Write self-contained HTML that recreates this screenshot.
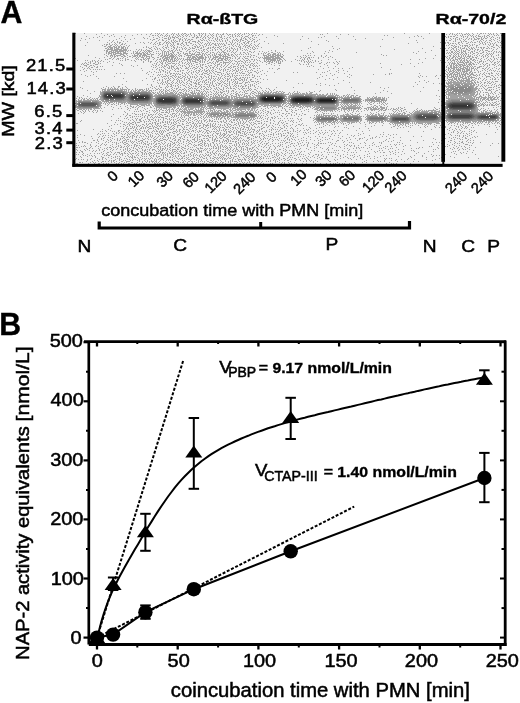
<!DOCTYPE html>
<html><head><meta charset="utf-8"><style>
html,body{margin:0;padding:0;background:#fff;}
svg{display:block;}
</style></head><body>
<svg width="520" height="703" viewBox="0 0 520 703">

<rect width="520" height="703" fill="#fff"/>
<rect x="75" y="33" width="367" height="131" fill="#f1f1f1"/>
<rect x="444" y="33" width="58" height="130" fill="#f1f1f1"/>
<g stroke-width="1">
<g stroke="#a1a1a1">
<path d="M75 33.5h430" stroke-dasharray="1 8 1 16 1 49 1 3 1 1 1 1 1 3 1 3 1 4 1 1 1 3 1 3 1 1 2 4 1 2 1 4 2 1 1 1 1 1 1 3 1 3 1 3 1 5 1 2 1 8 1 2 1 1 1 3 1 1 1 1 1 3 1 1 1 1 1 70 1 76 1 24 1 20 1 1 1 4 1 1 1 1 1 4 1 1 1 3 1 4 1 2 2 1 1 1 1 2 1 1 1 2 1 2 1 3 1 430"/>
<path d="M96 34.5h409" stroke-dasharray="1 10 1 5 1 23 1 3 1 4 1 3 1 7 1 2 1 4 1 4 1 1 1 2 1 1 1 2 1 1 1 2 1 1 1 1 1 3 1 4 1 2 1 2 1 4 1 1 1 3 1 1 1 1 1 1 2 3 1 1 2 1 1 1 1 2 1 1 1 2 1 1 1 4 1 1 1 7 1 2 1 57 1 1 1 17 1 7 1 97 1 2 1 2 1 1 1 1 1 5 1 1 2 1 1 1 1 3 1 5 1 9 1 1 1 1 1 3 1 430"/>
<path d="M104 35.5h401" stroke-dasharray="1 6 1 13 1 6 1 19 2 1 1 1 1 2 1 1 1 2 1 1 1 1 1 3 1 3 1 1 1 2 1 2 1 1 1 3 1 2 1 1 1 2 1 1 1 3 1 2 1 2 1 1 1 2 1 4 1 6 1 3 1 2 1 2 1 2 1 6 1 3 2 1 1 2 1 15 1 109 1 2 1 29 1 37 1 1 1 2 1 1 1 5 1 1 1 1 1 3 1 1 1 5 1 2 2 5 1 1 1 1 1 2 1 430"/>
<path d="M86 36.5h419" stroke-dasharray="1 12 1 9 1 4 1 6 1 27 1 8 1 5 1 1 1 2 1 2 1 2 1 2 1 1 1 2 1 2 1 2 1 4 1 2 1 3 1 2 1 2 1 4 1 3 1 2 1 1 1 2 1 5 1 1 1 2 1 1 1 1 1 2 1 2 3 4 1 24 1 24 1 21 1 11 1 16 1 60 1 3 1 2 1 23 1 2 1 1 2 1 2 6 1 1 1 1 1 1 1 3 1 1 1 1 1 2 3 1 1 1 1 1 1 2 1 2 1 10 1 430"/>
<path d="M93 37.5h412" stroke-dasharray="1 3 1 4 1 21 1 18 1 9 1 5 1 2 1 5 1 1 1 1 3 1 2 4 1 9 2 2 3 1 1 2 1 1 1 2 1 1 1 2 1 3 1 2 2 5 1 1 1 3 1 7 1 2 1 3 1 1 1 3 1 1 1 9 1 51 1 2 1 71 1 15 1 36 1 1 1 7 2 5 1 3 1 5 1 2 1 4 1 2 1 2 1 3 1 1 1 3 1 1 1 430"/>
<path d="M81 38.5h424" stroke-dasharray="1 7 1 29 1 14 1 9 1 2 1 8 2 6 3 1 1 1 1 3 1 3 1 1 1 3 1 1 1 9 1 5 1 2 1 3 1 2 1 2 1 1 1 4 1 1 1 1 1 3 1 5 1 4 1 1 1 1 1 3 1 2 1 55 1 29 1 26 1 57 1 20 1 5 1 2 1 1 1 3 1 1 1 4 1 2 1 1 1 2 1 2 3 1 1 1 1 1 2 3 1 4 1 3 1 430"/>
<path d="M85 39.5h420" stroke-dasharray="1 30 1 8 1 4 1 19 1 2 2 4 1 2 1 5 2 3 1 5 2 1 1 2 1 2 2 1 2 7 1 2 1 4 1 6 1 1 1 1 1 1 1 5 1 5 1 1 1 1 1 2 2 3 2 3 1 2 2 4 1 40 1 54 1 26 1 61 1 6 1 3 1 1 1 1 1 3 1 1 1 2 1 2 1 2 3 1 1 2 2 8 1 1 1 3 1 430"/>
<path d="M80 40.5h425" stroke-dasharray="1 18 1 9 1 3 1 7 1 30 1 5 1 3 2 2 1 4 1 1 1 1 1 3 1 2 1 2 1 1 1 2 1 7 1 2 2 1 1 1 1 2 1 1 1 1 1 2 1 2 1 2 1 2 1 1 1 4 1 1 1 1 1 1 1 1 1 1 2 3 1 4 1 4 1 68 1 89 1 29 1 2 2 4 1 4 1 3 1 8 1 6 1 2 1 2 1 2 2 3 1 4 1 430"/>
<path d="M112 41.5h393" stroke-dasharray="1 4 1 5 1 3 1 28 1 8 1 2 1 2 1 2 1 1 2 1 1 3 1 5 1 2 4 2 2 7 1 6 1 2 1 2 1 1 1 2 1 3 1 2 1 4 1 2 1 4 1 2 2 1 1 2 1 1 1 7 1 46 1 16 1 124 1 1 1 5 1 1 1 1 2 4 1 5 1 1 1 1 1 3 1 5 1 5 1 3 1 430"/>
<path d="M87 42.5h418" stroke-dasharray="1 19 1 3 1 2 1 2 1 1 2 19 1 2 1 4 1 2 1 3 1 3 2 3 1 1 2 1 1 2 2 1 1 6 1 2 2 1 2 5 1 1 1 2 1 1 1 5 1 1 1 15 1 3 1 1 1 2 1 3 1 3 2 2 2 5 1 162 1 22 1 4 1 1 2 9 2 1 1 6 1 1 1 1 1 1 2 3 1 2 1 1 1 2 1 1 1 5 1 2 1 1 1 2 1 430"/>
<path d="M109 43.5h396" stroke-dasharray="1 5 1 3 1 2 1 2 1 9 1 8 1 5 1 3 1 2 1 1 1 3 1 2 1 1 1 1 1 2 1 3 2 2 2 3 1 3 2 6 1 2 1 3 1 1 1 1 1 2 2 1 1 1 1 1 1 1 1 1 1 2 1 4 1 2 1 2 1 3 1 2 1 1 1 1 1 2 1 7 1 8 1 14 1 124 1 34 1 1 1 2 1 1 1 1 2 1 1 2 1 3 1 3 2 12 1 1 1 2 1 4 1 1 1 1 1 6 1 430"/>
<path d="M104 44.5h401" stroke-dasharray="1 1 2 1 1 2 1 1 1 1 1 4 2 1 1 28 1 1 1 3 2 1 1 4 1 3 1 1 1 3 2 1 1 2 1 2 1 6 1 1 1 3 1 4 1 1 1 2 1 1 1 2 2 2 1 1 1 1 1 1 1 3 2 1 1 1 1 3 1 1 1 2 1 2 1 4 1 3 1 3 1 59 1 130 1 6 1 2 1 9 1 2 1 1 1 4 1 3 1 1 1 2 1 1 1 2 1 2 1 6 1 430"/>
<path d="M85 45.5h420" stroke-dasharray="1 16 1 3 1 3 2 3 1 1 1 2 1 5 1 2 1 28 1 6 1 1 1 2 1 1 1 1 1 6 1 2 1 2 2 3 1 3 1 3 1 1 1 3 1 1 1 1 1 4 2 1 1 5 2 6 1 2 1 3 1 4 1 1 2 1 1 1 1 3 1 1 1 188 1 1 1 2 2 1 1 5 1 1 1 1 4 2 1 1 1 3 2 11 1 3 1 2 2 2 1 430"/>
<path d="M104 46.5h401" stroke-dasharray="2 2 3 2 2 1 1 1 2 1 1 1 2 3 1 17 1 6 1 1 1 7 1 3 1 3 1 1 1 3 1 5 1 10 2 1 1 1 1 3 1 1 1 7 1 5 1 1 1 1 1 5 1 3 1 2 1 1 1 1 1 2 1 1 1 2 2 3 1 2 1 1 1 73 1 47 1 52 1 19 1 1 2 1 1 3 1 2 1 1 1 1 1 6 1 10 1 3 2 5 1 430"/>
<path d="M107 47.5h398" stroke-dasharray="1 1 4 1 3 1 2 1 3 1 1 1 1 15 1 2 1 1 1 2 1 4 1 5 1 2 2 1 1 4 2 2 1 1 1 1 1 3 1 3 1 2 1 2 1 1 2 2 1 1 1 4 1 1 1 1 2 1 1 1 2 1 1 4 1 1 1 3 1 7 2 4 1 1 1 2 1 1 1 1 1 6 1 48 1 133 1 4 1 1 1 2 2 2 1 1 1 3 1 3 1 2 1 1 1 2 1 1 1 1 2 1 2 3 1 4 2 4 1 1 1 430"/>
<path d="M105 48.5h400" stroke-dasharray="2 1 1 1 3 1 1 1 3 2 3 1 1 1 1 21 2 3 1 2 1 1 1 3 1 2 1 4 1 2 1 1 1 5 1 1 1 1 1 3 1 1 3 5 2 5 2 1 1 3 1 4 1 3 1 2 1 2 1 1 2 1 1 2 1 2 1 1 1 5 1 3 1 2 1 1 1 50 1 24 1 5 1 82 1 17 1 4 1 2 1 3 2 2 1 3 1 1 3 1 1 2 1 1 2 1 1 6 1 1 1 2 2 1 1 1 1 5 1 4 1 430"/>
<path d="M107 49.5h398" stroke-dasharray="6 1 8 1 4 9 1 2 1 1 1 4 1 4 1 3 1 1 1 2 1 3 1 3 1 4 1 2 1 2 1 2 1 2 1 2 2 6 1 1 1 4 2 1 1 5 1 2 1 1 1 2 2 3 1 3 1 3 1 1 1 1 1 2 1 3 1 1 1 3 1 2 2 82 1 56 1 49 1 6 1 1 1 2 1 1 1 2 1 4 2 2 1 1 1 2 1 1 2 3 1 10 1 2 1 430"/>
<path d="M104 50.5h401" stroke-dasharray="1 1 2 3 7 1 8 1 1 1 1 7 1 2 1 1 1 1 1 1 3 2 1 8 1 1 1 5 1 1 2 2 1 1 1 1 1 7 1 4 1 1 1 4 1 1 1 1 1 3 1 2 1 1 1 2 1 5 1 2 1 2 1 2 1 2 1 3 1 4 1 2 1 1 1 23 1 3 1 25 1 27 1 101 1 14 2 2 1 3 1 1 1 2 1 1 1 1 1 1 1 2 2 4 1 2 1 2 1 1 1 2 3 4 1 9 1 430"/>
<path d="M106 51.5h399" stroke-dasharray="2 1 3 1 1 1 9 1 1 1 1 5 1 1 1 1 1 2 1 3 1 1 1 1 4 4 1 1 1 3 1 1 2 1 2 1 1 1 1 1 1 5 2 4 1 2 2 2 1 2 1 5 1 1 1 3 1 9 1 3 2 3 1 1 1 2 1 3 1 12 2 3 1 4 1 2 1 5 1 6 1 7 1 28 1 12 1 6 1 85 1 32 2 2 1 1 2 2 1 1 3 5 2 1 1 4 1 3 1 4 2 1 1 2 1 1 1 2 1 430"/>
<path d="M106 52.5h399" stroke-dasharray="1 1 2 1 5 1 2 1 1 2 3 7 1 2 2 1 1 2 2 1 1 1 1 1 1 3 1 8 1 1 1 1 1 1 1 3 2 3 2 4 1 5 1 5 1 1 3 1 1 4 2 2 1 1 2 3 1 1 1 1 1 1 3 5 1 1 1 1 1 4 1 2 2 2 1 3 1 1 1 10 1 1 1 4 2 4 1 1 1 33 1 14 1 27 1 56 1 11 1 21 1 1 1 1 2 1 1 1 1 2 1 1 2 2 1 2 1 1 1 1 1 3 2 4 2 2 1 6 1 2 1 1 1 1 1 1 1 430"/>
<path d="M106 53.5h399" stroke-dasharray="1 1 4 1 1 1 7 1 5 3 1 1 1 1 7 1 2 1 2 2 1 5 1 1 1 1 1 1 1 1 1 1 1 1 1 1 2 1 1 4 1 1 1 2 1 1 3 1 2 1 1 1 1 4 1 2 2 1 1 4 1 3 1 1 1 3 1 3 1 1 1 1 1 5 1 5 1 4 1 2 1 9 1 2 1 1 1 1 1 2 2 3 3 2 1 1 1 26 1 2 1 13 1 91 1 26 1 2 1 1 1 1 1 2 1 1 1 1 2 2 1 1 1 1 2 3 1 2 2 3 1 1 2 5 1 1 1 1 1 1 1 430"/>
<path d="M104 54.5h401" stroke-dasharray="1 3 1 2 1 1 3 4 4 2 1 7 1 2 2 1 2 1 3 1 3 1 3 5 1 2 1 1 1 1 1 1 2 1 2 1 1 1 1 2 1 4 2 1 1 3 4 1 5 1 1 1 1 1 1 1 2 2 1 1 1 1 1 1 3 1 1 1 2 1 2 2 2 2 1 1 1 1 1 1 1 1 1 2 1 1 1 1 1 7 1 4 1 3 2 1 1 1 4 1 2 1 1 1 1 98 1 69 1 2 1 1 1 1 1 1 1 1 1 1 1 1 1 1 1 3 1 4 1 5 1 2 1 1 1 1 1 1 1 5 1 4 1 430"/>
<path d="M88 55.5h417" stroke-dasharray="1 17 1 3 3 1 1 1 5 2 2 2 1 4 1 1 4 1 2 1 5 4 1 6 1 2 2 1 5 1 4 1 1 2 1 1 2 4 6 3 2 1 1 2 2 1 1 2 1 2 1 1 1 1 2 3 3 1 1 1 1 2 2 1 1 1 1 2 1 14 1 1 2 8 4 1 3 1 2 1 6 2 1 19 1 1 1 2 1 1 1 3 1 6 1 4 1 56 1 2 1 48 1 13 2 2 1 1 1 2 1 2 1 1 1 1 1 2 1 1 1 3 1 1 1 2 1 2 1 2 1 1 1 3 1 4 1 1 1 430"/>
<path d="M107 56.5h398" stroke-dasharray="1 2 1 1 1 1 2 1 1 3 2 1 2 3 2 2 3 1 1 1 2 1 1 1 1 1 4 1 1 8 2 1 3 1 1 1 6 1 1 2 1 1 1 2 1 3 1 1 1 1 3 1 2 1 4 2 1 2 1 1 1 2 1 1 4 1 1 1 6 4 1 1 1 2 1 2 1 2 1 1 1 1 2 1 1 5 1 7 1 1 3 1 6 1 2 1 3 14 1 2 1 5 1 14 1 3 1 4 1 114 1 1 1 2 1 2 2 1 1 1 2 1 1 1 1 1 1 1 4 1 1 4 1 3 1 1 1 1 1 2 1 2 1 1 1 430"/>
<path d="M95 57.5h410" stroke-dasharray="1 8 1 6 1 2 1 8 1 3 1 4 1 3 1 1 1 2 3 2 1 2 1 2 2 3 2 3 2 1 5 1 3 1 1 1 1 9 4 1 4 1 7 1 2 1 1 1 1 2 5 1 2 2 1 1 1 1 4 4 1 3 1 4 1 5 1 2 1 4 1 1 1 1 1 1 10 1 5 1 2 18 1 1 1 1 1 2 2 1 1 1 1 4 1 4 1 4 1 3 1 113 1 2 1 2 2 1 1 1 1 2 2 2 1 1 1 2 1 2 2 1 2 6 1 3 1 5 1 4 1 1 1 2 1 430"/>
<path d="M75 58.5h430" stroke-dasharray="1 23 1 9 2 2 1 3 2 1 1 1 1 2 1 9 1 1 1 5 1 1 1 1 3 4 1 5 1 1 1 1 4 1 1 1 2 1 2 1 1 1 1 1 1 1 1 3 1 1 1 1 3 1 2 1 6 1 1 3 1 2 2 1 1 2 6 1 3 2 1 1 1 2 1 2 2 2 1 2 3 11 1 3 8 1 9 2 1 16 1 3 1 2 1 1 1 8 1 106 1 7 1 7 1 2 1 2 1 1 1 1 2 2 1 2 3 1 3 2 2 1 2 4 1 1 1 2 1 4 1 3 1 3 1 1 1 7 1 430"/>
<path d="M105 59.5h400" stroke-dasharray="1 1 1 4 1 3 1 1 1 6 1 1 2 7 1 1 1 1 2 1 2 1 1 1 1 4 1 3 1 1 2 2 2 1 3 1 3 1 1 1 1 1 1 1 1 2 1 1 7 1 7 2 1 1 2 3 1 1 2 1 2 1 2 2 2 1 2 1 1 1 1 7 1 5 1 4 1 2 2 1 1 1 1 7 1 1 10 1 1 1 3 2 1 10 1 6 1 1 1 2 1 2 1 17 1 6 1 74 1 8 1 23 1 4 1 1 1 2 1 1 3 1 1 1 1 2 1 1 1 3 2 1 2 5 1 3 1 3 1 2 1 2 1 2 1 2 2 430"/>
<path d="M77 60.5h428" stroke-dasharray="1 7 1 1 1 4 1 1 1 3 1 2 1 18 1 1 1 2 1 5 1 2 1 6 1 3 1 2 1 7 1 4 1 1 4 1 1 1 1 1 1 1 2 1 1 4 1 1 1 2 1 1 2 1 1 2 1 1 2 1 1 1 1 2 1 2 1 2 1 4 1 1 5 2 2 1 1 1 1 1 1 1 1 5 1 3 1 1 2 1 1 4 1 2 1 1 1 4 1 1 1 1 1 1 6 1 3 2 1 2 1 11 1 1 1 1 1 1 1 4 1 3 1 2 1 5 1 118 1 6 1 2 1 1 3 2 1 2 2 1 2 1 2 1 1 2 2 1 1 1 1 3 1 5 1 1 1 3 1 430"/>
<path d="M90 61.5h415" stroke-dasharray="1 1 1 2 1 1 1 2 1 2 1 5 1 25 1 7 1 4 1 1 2 3 1 3 1 1 1 1 1 2 1 1 3 1 3 1 1 2 1 1 1 5 1 2 1 1 4 3 2 1 1 1 1 2 1 5 1 2 3 4 1 5 1 1 1 3 2 1 2 1 2 2 1 4 1 2 1 6 1 3 2 1 4 1 1 1 1 1 1 1 1 1 1 1 1 8 1 9 1 2 1 1 1 1 1 1 1 4 1 2 1 17 1 2 1 111 1 2 1 1 1 1 1 1 1 1 1 1 1 2 2 1 1 3 1 4 3 1 1 1 1 4 1 1 1 4 1 1 1 430"/>
<path d="M85 62.5h420" stroke-dasharray="1 2 1 1 1 4 1 2 1 8 1 5 1 29 1 6 1 6 1 2 1 1 1 2 1 1 1 3 1 7 1 2 1 2 1 2 1 1 1 4 3 2 1 1 1 1 1 4 2 1 1 2 1 1 1 2 2 1 6 1 1 6 1 5 1 1 1 1 1 1 1 6 1 5 1 3 1 2 1 1 2 3 1 1 1 1 1 23 1 2 1 1 1 1 1 1 1 7 1 5 1 1 1 3 1 3 1 84 1 18 1 3 1 2 1 1 1 1 1 1 1 2 1 1 5 1 4 1 2 3 1 1 1 1 1 3 1 7 1 2 2 2 1 430"/>
<path d="M82 63.5h423" stroke-dasharray="1 1 1 1 1 3 1 2 2 3 1 1 1 18 1 34 1 1 1 4 2 2 1 2 3 1 3 1 1 1 1 3 1 1 1 2 1 1 1 1 1 1 1 5 1 7 2 2 1 1 1 1 1 3 1 3 1 1 1 3 1 2 1 1 1 2 1 1 1 1 1 2 1 6 2 1 1 2 1 10 2 4 1 3 3 18 1 8 1 10 2 5 1 7 1 3 1 41 1 29 1 7 1 30 1 1 5 1 2 4 2 1 1 2 2 1 2 4 1 3 1 3 2 6 1 2 1 430"/>
<path d="M81 64.5h424" stroke-dasharray="1 1 1 3 2 6 3 23 1 30 1 3 1 2 1 2 1 3 2 7 1 3 1 6 1 1 1 2 1 4 2 2 1 1 2 1 1 8 1 2 3 1 1 3 1 2 1 4 1 2 1 1 1 6 1 2 1 1 1 2 1 12 1 4 1 28 1 2 1 2 1 1 1 15 1 12 1 63 1 47 1 1 1 1 2 1 1 1 5 1 1 1 1 1 4 1 2 1 1 3 1 2 1 1 1 3 1 2 2 1 1 3 1 430"/>
<path d="M84 65.5h421" stroke-dasharray="3 3 2 1 1 18 1 9 1 8 1 5 1 15 1 1 1 2 1 2 1 2 1 1 1 1 1 2 1 2 1 3 1 1 1 1 1 1 1 4 1 2 1 1 1 5 1 1 1 5 1 1 2 3 1 1 1 3 1 2 1 2 1 3 1 6 1 1 1 1 2 2 2 2 1 1 1 1 1 1 1 2 1 14 1 4 1 31 1 15 1 116 1 2 1 2 2 1 1 1 3 1 2 1 4 1 1 1 1 1 1 12 1 2 1 1 1 4 1 3 1 1 1 1 1 430"/>
<path d="M80 66.5h425" stroke-dasharray="1 5 1 2 1 4 1 2 1 2 1 1 1 30 1 17 1 4 1 5 1 1 2 3 1 1 3 2 1 5 1 2 1 3 1 1 1 4 1 1 1 1 1 4 2 2 1 4 1 2 1 2 1 2 1 2 1 3 1 2 3 1 1 3 1 1 1 5 1 3 1 1 1 1 1 49 1 1 1 3 1 6 1 14 1 78 1 31 1 3 2 1 2 1 1 1 1 1 2 1 1 2 3 1 1 1 1 1 2 3 3 1 1 3 1 8 1 430"/>
<path d="M82 67.5h423" stroke-dasharray="1 5 1 2 2 3 2 55 1 1 1 3 1 1 1 1 1 3 1 1 1 1 1 1 1 3 1 2 1 5 1 1 1 4 2 2 1 3 2 4 1 2 1 1 2 2 1 4 1 3 1 2 2 1 1 1 1 4 1 1 1 2 1 1 1 3 2 77 1 23 1 28 1 64 1 1 1 1 2 1 5 1 2 2 3 1 1 1 1 1 1 1 1 3 3 6 1 2 1 4 1 430"/>
<path d="M84 68.5h421" stroke-dasharray="1 2 1 1 1 51 1 15 1 6 1 3 2 1 1 2 1 1 3 2 1 3 3 2 1 1 1 2 2 2 1 2 1 3 1 3 1 2 1 3 1 1 1 4 1 5 1 4 1 1 1 2 1 5 1 6 2 2 1 1 1 9 1 2 1 5 2 43 1 9 1 4 1 3 1 6 1 98 2 1 4 1 1 1 1 1 4 1 3 1 1 1 3 1 1 1 1 4 2 1 1 2 1 3 1 3 1 2 1 430"/>
<path d="M83 69.5h422" stroke-dasharray="1 6 1 2 1 1 1 1 1 1 1 1 1 2 1 47 1 3 1 2 1 1 1 3 1 6 1 2 1 2 1 9 1 5 1 5 1 3 1 3 1 3 1 2 1 3 1 1 1 1 1 1 1 1 2 3 1 2 1 2 1 2 2 1 1 1 1 4 1 25 1 40 1 71 1 55 1 1 1 1 1 2 2 1 5 1 3 1 4 1 1 2 1 1 1 7 1 2 1 2 1 7 1 5 1 430"/>
<path d="M80 70.5h425" stroke-dasharray="1 5 1 55 1 16 1 2 2 3 1 2 1 3 1 5 1 1 2 3 1 3 1 4 1 1 2 2 1 1 1 1 2 1 1 1 1 1 1 6 1 2 1 1 1 4 1 2 2 1 1 1 1 1 1 7 1 1 1 1 1 4 1 4 1 66 1 8 1 4 1 101 1 2 1 1 1 1 2 1 1 1 4 1 1 1 1 1 4 1 1 2 1 2 1 4 1 2 1 3 1 1 1 1 1 1 1 430"/>
<path d="M84 71.5h421" stroke-dasharray="1 6 1 4 1 52 1 4 1 5 1 2 1 1 1 3 1 5 1 1 2 1 1 8 1 3 1 1 1 3 1 1 1 3 2 2 1 2 1 2 2 6 1 3 1 1 1 2 1 3 2 4 1 2 1 1 1 6 2 4 1 6 1 59 1 8 1 10 1 98 1 2 3 1 2 1 1 1 1 1 1 1 6 2 2 6 1 1 1 6 1 6 1 2 1 1 1 1 1 430"/>
<path d="M93 72.5h412" stroke-dasharray="1 53 1 3 1 4 1 1 1 1 1 4 1 1 1 1 1 12 1 3 1 1 1 2 1 1 1 2 1 1 1 4 1 3 1 2 1 2 1 3 4 5 1 8 1 3 1 1 1 6 1 1 2 4 1 1 1 15 1 18 1 3 1 18 1 5 1 1 1 13 1 103 1 1 1 2 1 1 1 2 2 1 3 1 1 1 1 1 2 1 1 2 2 1 1 1 2 2 1 5 1 6 1 9 1 430"/>
<path d="M116 73.5h389" stroke-dasharray="1 3 1 3 1 21 1 20 1 2 2 1 2 1 1 1 1 3 1 1 1 2 1 3 1 5 1 4 1 1 3 2 1 1 1 2 1 6 1 1 1 3 1 1 1 1 1 1 1 1 1 1 1 2 1 1 3 4 1 7 1 6 1 65 1 13 1 44 1 1 1 27 1 25 1 2 1 1 3 1 1 2 3 1 1 1 1 1 3 1 1 1 2 7 1 2 1 2 1 1 2 1 2 3 1 1 1 4 1 430"/>
<path d="M81 74.5h424" stroke-dasharray="1 11 1 54 1 4 1 4 1 1 1 1 1 2 1 4 1 4 1 1 1 1 2 4 1 2 1 3 1 2 1 3 1 1 2 4 2 6 1 1 2 2 1 3 1 1 2 3 1 13 1 1 1 3 1 8 1 58 1 13 1 14 1 23 1 11 1 3 1 54 1 1 2 1 3 1 5 1 1 1 5 1 2 1 4 2 1 2 1 2 1 1 1 4 1 7 1 2 1 430"/>
<path d="M85 75.5h420" stroke-dasharray="1 4 1 66 1 1 1 6 1 1 1 3 2 1 1 6 1 2 1 3 1 6 1 7 1 4 1 1 1 7 1 2 1 1 1 4 1 2 1 1 1 1 2 1 1 1 1 1 1 1 1 1 1 1 1 2 1 1 1 11 1 59 1 5 1 18 1 68 1 15 1 3 1 1 1 4 1 1 1 1 1 1 1 1 1 1 1 1 2 1 1 1 2 3 2 2 3 1 1 1 1 5 1 5 2 2 1 2 1 3 1 430"/>
<path d="M87 76.5h418" stroke-dasharray="1 8 1 17 1 35 1 1 1 8 1 1 3 1 1 2 2 2 1 1 1 1 1 1 1 2 2 2 1 2 1 1 1 1 1 2 1 2 2 3 1 2 1 2 1 1 2 1 1 4 1 3 1 1 2 1 1 1 1 2 1 18 1 2 1 1 1 62 1 24 1 70 1 3 1 3 1 8 1 9 1 1 2 2 3 1 3 1 2 1 2 1 1 1 3 1 1 4 1 5 1 3 4 3 1 8 1 430"/>
<path d="M155 77.5h350" stroke-dasharray="1 2 1 3 1 5 1 3 1 2 1 2 2 2 1 2 1 1 1 2 1 1 1 1 1 1 1 4 1 1 1 2 1 1 1 2 1 6 1 1 1 3 1 5 1 3 1 1 1 3 1 1 2 1 1 1 1 1 1 2 2 65 1 17 1 11 1 69 1 27 1 1 3 1 2 1 1 1 1 1 3 2 2 1 1 1 5 4 1 6 1 3 1 3 1 2 1 2 1 430"/>
<path d="M98 78.5h407" stroke-dasharray="1 24 1 22 1 7 2 8 1 1 1 1 1 1 1 2 1 3 1 2 2 2 1 3 2 5 1 3 1 2 1 6 1 1 1 1 1 1 1 2 1 1 1 1 1 2 1 1 1 1 1 5 1 1 1 1 2 3 1 2 1 7 1 4 1 56 1 11 1 108 1 5 1 2 1 4 1 1 3 1 2 2 5 1 2 1 1 3 2 1 1 1 1 3 1 7 1 2 1 430"/>
<path d="M152 79.5h353" stroke-dasharray="1 1 1 4 1 2 1 2 1 3 1 4 1 1 1 1 1 5 1 1 1 2 1 1 1 5 1 1 1 1 1 4 1 1 1 1 1 3 1 2 1 1 1 3 1 3 2 2 1 1 1 1 2 1 1 2 2 1 1 1 1 3 2 5 1 5 1 3 1 57 1 7 1 109 1 4 5 1 3 1 2 1 1 1 1 2 4 2 1 1 1 3 1 4 1 2 1 3 1 1 1 1 2 2 1 430"/>
<path d="M142 80.5h363" stroke-dasharray="1 14 1 1 1 2 1 4 2 1 1 2 1 3 1 1 1 1 1 2 1 3 2 4 1 1 1 1 1 4 1 1 2 3 1 2 1 1 1 2 1 2 1 3 1 1 1 3 1 2 1 4 2 1 1 1 1 1 1 3 1 35 1 56 1 80 1 20 1 1 1 1 1 1 3 2 2 1 11 1 3 1 1 6 1 2 1 430"/>
<path d="M83 81.5h422" stroke-dasharray="1 42 1 26 1 8 1 2 1 1 1 4 1 4 1 1 1 2 1 4 1 2 2 4 1 3 1 1 1 1 1 3 1 3 1 1 1 5 1 1 1 1 1 2 1 1 1 3 1 1 1 1 1 5 1 4 1 2 3 1 1 1 2 160 1 8 1 19 1 1 2 1 3 1 2 1 4 1 7 2 1 2 1 2 1 6 1 1 1 2 1 2 3 5 1 430"/>
<path d="M157 82.5h348" stroke-dasharray="1 3 1 1 1 1 1 1 1 3 1 1 1 2 1 2 1 1 1 1 1 2 1 4 1 1 1 1 1 2 2 2 1 1 1 1 1 1 1 1 1 1 1 4 1 3 1 1 1 5 1 2 1 2 1 1 1 4 1 2 3 1 1 6 1 3 1 88 1 20 1 44 1 10 1 19 1 1 14 1 3 1 3 1 2 1 2 1 2 2 1 2 2 2 1 2 1 1 1 7 1 430"/>
<path d="M158 83.5h347" stroke-dasharray="1 1 1 1 1 3 1 1 2 2 1 2 1 1 1 2 1 3 1 2 1 1 1 4 3 1 1 6 1 4 1 1 1 2 1 2 3 3 2 1 1 1 1 4 1 1 2 1 3 3 1 8 1 3 1 39 1 3 1 17 1 17 1 94 1 5 1 1 1 4 6 1 21 1 1 4 1 3 1 2 1 1 2 4 1 430"/>
<path d="M122 84.5h383" stroke-dasharray="1 24 1 3 1 10 1 1 1 2 1 2 2 6 1 3 1 3 1 3 2 4 1 1 2 1 1 2 1 1 2 1 1 2 1 3 1 2 1 2 1 3 1 2 1 2 1 2 1 8 1 3 1 1 1 1 1 3 1 59 1 8 1 91 1 23 1 5 2 1 6 11 5 1 2 1 1 1 1 3 1 9 1 1 1 4 1 3 1 430"/>
<path d="M151 85.5h354" stroke-dasharray="1 7 1 7 1 3 1 1 1 1 1 1 1 2 1 2 2 3 1 2 1 3 1 4 1 8 1 1 1 1 1 2 1 1 1 2 1 2 1 2 1 1 1 4 1 1 1 1 1 2 1 3 2 3 1 1 1 1 1 65 1 8 1 4 1 108 1 1 1 2 3 20 4 3 1 2 1 2 1 1 1 1 1 2 1 4 1 1 1 1 2 430"/>
<path d="M106 86.5h399" stroke-dasharray="1 6 1 4 2 5 1 26 1 3 1 2 1 6 1 1 1 1 2 3 1 2 1 6 1 3 1 3 1 1 2 2 1 1 1 1 2 2 1 1 1 3 2 6 1 3 2 3 1 2 1 1 1 2 1 1 1 1 2 1 1 2 1 1 1 3 1 3 1 154 1 31 5 22 2 2 2 2 1 1 1 2 1 8 1 1 1 430"/>
<path d="M80 87.5h425" stroke-dasharray="1 22 1 4 1 2 1 2 1 3 1 3 1 3 1 23 1 3 1 5 2 3 1 1 1 4 1 5 1 1 1 5 1 1 1 2 1 6 1 2 1 3 1 2 1 1 1 5 1 1 1 4 1 3 1 2 1 5 1 5 1 5 1 6 1 4 1 15 1 16 1 57 1 28 1 7 1 34 1 22 1 1 2 23 1 1 2 6 1 4 4 1 1 4 2 430"/>
<path d="M82 88.5h423" stroke-dasharray="1 18 1 3 1 2 1 1 1 1 1 1 2 1 1 2 1 1 1 4 1 7 1 10 1 1 1 3 1 2 1 2 1 6 1 5 1 2 1 1 2 6 1 4 2 1 1 1 2 1 1 2 1 3 1 1 1 4 1 2 1 1 1 2 1 3 1 2 1 1 1 1 2 1 2 3 1 2 1 1 2 1 1 1 1 1 1 6 1 3 1 4 1 1 1 115 1 59 1 2 2 24 5 1 1 1 1 2 1 2 1 8 1 430"/>
<path d="M102 89.5h403" stroke-dasharray="4 1 12 1 7 1 2 2 1 2 1 1 1 1 4 1 1 1 1 1 1 7 2 1 1 1 1 1 1 2 1 2 1 2 1 3 1 2 2 1 2 1 1 2 1 7 1 4 1 1 1 2 3 1 1 4 1 1 1 2 2 1 1 11 1 3 1 2 1 6 1 1 1 2 2 13 1 4 1 60 1 107 2 1 3 24 4 1 1 6 2 2 1 1 1 1 1 5 1 2 1 430"/>
<path d="M87 90.5h418" stroke-dasharray="1 14 1 1 2 16 1 1 1 1 1 1 1 2 1 1 1 1 2 1 3 1 2 2 2 1 3 1 1 1 1 4 1 2 1 1 1 1 2 2 1 1 2 3 1 2 1 2 1 1 1 2 1 1 1 2 1 1 4 4 1 8 1 4 1 3 1 3 1 1 1 3 2 9 1 1 1 1 2 1 1 5 1 5 1 2 1 4 1 2 1 46 1 15 1 17 1 28 1 54 1 4 1 1 1 1 2 24 3 2 2 2 1 3 1 1 3 5 2 430"/>
<path d="M94 91.5h411" stroke-dasharray="1 5 1 1 1 22 2 1 1 1 2 1 3 1 3 1 6 1 2 1 1 7 1 1 2 2 2 2 1 3 1 1 1 1 1 5 1 2 1 1 1 3 1 1 1 4 1 1 1 1 1 1 1 1 1 2 1 3 1 1 1 3 1 2 2 1 1 1 1 2 1 1 1 2 1 3 1 3 1 1 1 5 2 3 1 1 1 3 1 2 1 1 1 2 1 4 2 1 2 1 1 11 1 2 1 11 1 4 1 4 1 67 1 32 1 23 1 1 3 24 2 1 2 2 1 10 1 3 1 6 1 430"/>
<path d="M100 92.5h405" stroke-dasharray="2 24 4 20 1 1 2 1 1 1 1 1 1 1 1 1 1 1 1 1 1 2 3 1 1 1 1 2 3 3 1 4 3 1 1 1 1 1 1 1 1 1 1 3 1 1 1 2 1 4 1 1 1 1 3 5 1 6 1 3 1 2 1 1 1 6 1 2 2 2 1 1 1 1 1 1 2 1 2 1 2 1 4 1 1 2 1 1 2 4 1 3 1 3 1 1 1 6 1 3 3 67 1 64 2 1 2 22 4 1 1 2 1 2 1 1 3 3 1 2 1 4 1 430"/>
<path d="M90 93.5h415" stroke-dasharray="1 9 2 49 1 1 2 2 2 1 1 1 2 1 9 1 2 1 1 1 1 1 2 1 2 1 1 2 5 1 3 1 2 1 1 1 1 6 1 1 1 1 1 3 1 2 1 2 1 3 1 1 1 2 2 7 3 2 1 1 2 2 1 1 5 1 7 1 2 1 9 4 1 1 1 1 1 1 5 1 1 1 3 1 2 1 3 4 1 10 1 2 1 1 1 1 1 19 1 20 1 15 1 52 1 1 1 1 3 20 4 2 1 1 1 8 1 1 1 1 1 2 1 4 2 1 1 430"/>
<path d="M100 94.5h405" stroke-dasharray="1 51 1 2 2 1 4 1 13 1 3 1 1 1 8 1 2 1 1 1 3 1 3 1 1 2 1 1 2 2 1 1 1 1 1 1 1 2 1 1 1 4 1 4 2 1 1 1 1 1 1 1 1 5 1 3 1 3 1 24 6 1 1 1 26 1 2 1 2 2 2 2 1 1 1 1 1 1 1 10 1 1 1 92 1 3 8 16 5 1 2 1 1 3 1 2 1 1 1 4 1 4 1 430"/>
<path d="M83 95.5h422" stroke-dasharray="1 15 1 52 1 1 3 20 1 1 7 14 3 1 1 1 1 1 1 4 1 1 1 2 2 1 1 1 1 2 2 3 2 3 1 1 2 1 1 2 1 1 1 1 2 2 1 2 4 26 1 3 2 22 3 1 10 1 6 1 4 4 2 1 1 1 1 2 3 2 2 78 1 8 1 2 26 1 2 3 1 2 1 4 2 6 1 430"/>
<path d="M77 96.5h428" stroke-dasharray="1 9 1 11 2 52 3 22 2 1 2 20 2 1 2 2 2 1 1 1 3 1 1 1 2 2 2 1 2 1 1 1 4 2 1 3 5 1 2 2 1 2 2 28 1 1 2 47 1 1 1 1 1 1 1 1 1 1 2 1 2 1 1 1 1 3 2 12 1 2 1 62 1 4 1 1 1 1 1 1 12 1 9 1 3 3 3 3 1 2 1 1 1 1 2 2 1 2 1 430"/>
<path d="M79 97.5h426" stroke-dasharray="1 1 1 8 1 7 1 1 1 77 4 22 2 2 1 1 1 1 15 1 2 1 2 1 1 1 8 2 2 1 7 1 1 28 1 1 1 49 5 1 3 8 5 7 1 1 1 2 1 1 3 1 3 1 1 1 1 3 1 57 1 1 1 1 8 1 5 1 8 1 1 1 4 1 6 1 5 1 2 1 2 3 1 430"/>
<path d="M76 98.5h429" stroke-dasharray="1 2 1 2 1 1 1 1 1 2 1 2 1 1 1 1 2 2 2 51 1 25 2 24 3 1 21 1 2 1 4 1 15 1 1 30 3 50 1 1 1 18 1 6 2 1 11 1 3 1 1 56 1 2 29 1 1 1 1 1 2 1 3 1 2 1 2 1 2 2 1 3 1 430"/>
<path d="M78 99.5h427" stroke-dasharray="1 2 1 1 2 2 2 1 2 1 1 1 1 1 1 1 3 50 2 25 1 25 4 22 4 51 1 1 1 50 2 19 2 3 4 14 2 1 1 52 1 2 1 1 1 3 3 20 8 1 1 1 3 1 3 1 7 1 1 430"/>
<path d="M76 100.5h429" stroke-dasharray="1 1 4 1 16 2 2 22 2 25 2 25 1 106 3 50 2 22 1 1 4 14 4 57 1 1 3 25 2 2 1 1 1 1 1 2 1 2 2 1 2 7 1 3 1 430"/>
<path d="M76 101.5h429" stroke-dasharray="2 20 3 1 4 16 7 22 3 25 1 107 2 52 1 18 2 3 1 1 1 1 1 1 11 1 1 1 1 55 2 1 1 1 1 29 2 1 1 1 1 4 1 9 1 1 1 430"/>
<path d="M76 102.5h429" stroke-dasharray="1 22 3 2 1 1 1 1 5 1 1 1 1 1 8 1 3 20 2 1 2 24 2 104 2 1 1 49 5 16 2 7 1 1 2 2 1 4 1 1 1 1 2 53 1 3 1 1 2 30 4 3 1 1 1 1 1 1 1 2 1 1 2 430"/>
<path d="M75 103.5h430" stroke-dasharray="1 24 2 1 1 1 1 1 1 1 1 3 1 2 1 1 1 2 2 1 1 1 1 1 24 1 2 23 3 103 2 1 3 48 1 2 1 1 6 1 2 1 5 1 1 1 1 7 1 3 1 3 1 1 1 2 1 2 1 1 1 23 1 33 1 34 1 1 1 1 1 5 1 2 1 2 1 2 1 430"/>
<path d="M100 104.5h405" stroke-dasharray="1 4 1 2 1 2 2 1 1 3 1 1 1 3 1 5 8 1 8 1 2 1 1 2 2 22 1 1 2 23 2 51 11 1 11 1 2 2 1 2 2 46 2 1 1 1 1 1 1 1 2 1 1 1 2 2 1 1 1 1 1 7 1 2 2 9 1 1 1 2 1 57 1 33 2 1 3 1 1 1 1 1 1 1 2 2 1 1 2 430"/>
<path d="M75 105.5h430" stroke-dasharray="1 24 2 5 1 8 1 10 1 2 1 6 2 2 4 1 4 2 1 1 3 20 3 1 2 20 3 1 1 49 2 2 2 1 17 1 1 2 1 2 1 1 11 1 16 17 4 2 1 1 1 1 1 1 2 1 2 1 4 1 1 1 1 13 2 3 1 4 1 56 1 2 1 32 2 1 2 1 2 1 2 1 1 1 4 1 1 430"/>
<path d="M75 106.5h430" stroke-dasharray="2 22 2 10 1 8 1 4 1 4 2 1 1 2 1 2 2 3 1 5 1 2 1 1 21 1 1 1 1 1 5 14 3 1 2 1 2 22 1 24 2 1 2 2 3 1 1 3 1 1 3 2 4 2 1 1 2 3 1 1 2 1 3 1 2 1 1 1 6 1 1 1 5 16 3 3 2 1 3 1 8 1 1 1 1 2 1 8 1 1 1 2 2 2 2 5 1 55 2 33 2 3 1 14 1 1 1 430"/>
<path d="M75 107.5h430" stroke-dasharray="3 20 1 1 1 3 1 8 1 13 1 4 2 1 1 2 1 3 1 7 2 4 16 1 3 2 1 2 1 1 1 1 15 1 4 1 1 2 23 1 2 20 4 8 1 2 1 1 1 3 1 1 1 3 1 6 2 1 2 5 2 1 1 1 1 2 1 2 1 2 2 1 2 18 1 1 3 1 3 1 15 6 4 1 2 1 1 1 1 2 5 1 1 11 1 1 1 3 1 29 1 8 1 33 1 15 1 2 1 5 1 430"/>
<path d="M77 108.5h428" stroke-dasharray="15 1 7 1 1 16 1 2 1 6 1 1 1 6 1 6 1 2 1 6 1 1 1 2 1 1 1 1 4 2 1 2 1 1 1 2 2 1 1 1 1 1 3 1 1 1 4 1 1 2 1 1 2 1 1 1 1 1 7 1 1 1 12 1 1 1 4 1 13 1 5 5 1 3 1 2 1 13 1 1 1 10 1 6 1 9 1 2 2 19 3 2 5 10 4 1 1 2 3 1 1 1 2 1 4 1 2 1 4 1 1 4 1 1 1 2 1 1 1 2 2 14 1 17 1 3 1 3 1 1 1 30 2 3 1 1 1 4 1 11 1 430"/>
<path d="M76 109.5h429" stroke-dasharray="1 2 3 1 2 1 1 1 1 1 2 2 1 17 1 14 1 7 1 1 1 7 1 10 1 1 1 1 2 4 1 1 2 1 3 2 1 2 3 1 4 1 5 2 2 1 1 1 4 2 1 3 1 2 2 6 1 1 3 3 2 1 1 2 11 1 3 1 2 1 1 2 1 5 1 9 1 11 1 3 1 1 1 6 1 1 1 5 1 1 1 5 4 17 2 1 2 1 1 1 4 1 2 1 1 1 3 2 1 1 1 5 1 1 1 1 9 1 3 2 2 1 1 1 1 2 3 1 1 2 1 3 2 10 1 4 1 11 1 2 2 5 1 1 1 30 3 1 1 4 1 8 1 2 1 430"/>
<path d="M77 110.5h428" stroke-dasharray="2 3 1 2 1 2 1 4 1 1 1 1 1 2 1 28 1 10 1 2 1 5 1 2 1 1 1 1 2 1 1 2 2 1 1 1 1 1 1 3 1 1 1 1 1 1 1 2 1 1 1 1 2 1 1 3 2 1 6 1 1 4 1 1 3 1 1 1 1 1 3 2 1 2 2 2 2 1 3 1 2 1 2 3 1 2 1 1 3 1 1 1 1 3 1 1 1 2 1 5 1 2 1 3 1 2 1 3 1 6 1 2 2 7 1 12 3 1 12 1 1 2 1 3 1 2 1 2 1 1 1 1 1 1 1 3 1 6 1 2 1 3 2 1 1 4 1 1 1 1 3 6 1 3 1 1 1 2 1 1 1 10 1 2 1 1 2 1 1 1 1 1 1 1 8 3 1 1 1 3 2 29 2 1 1 3 2 2 1 1 1 1 1 4 1 430"/>
<path d="M80 111.5h425" stroke-dasharray="1 2 1 1 1 3 1 2 1 4 1 4 1 21 1 9 1 1 1 1 1 2 1 4 2 5 1 1 1 3 1 6 1 2 1 1 1 1 1 2 1 1 1 1 6 1 6 1 11 1 1 1 1 1 1 1 1 1 2 1 2 1 2 2 1 1 3 1 1 1 1 3 1 2 1 1 4 1 2 1 2 2 1 1 1 2 1 4 1 3 2 17 2 3 1 9 1 6 1 7 1 3 1 3 1 1 1 3 1 1 1 2 1 3 1 4 1 3 1 4 1 2 1 1 1 2 1 16 1 14 1 1 1 3 1 1 1 4 1 6 1 1 5 1 8 2 2 1 6 2 1 1 3 29 2 3 1 1 1 1 2 3 2 3 1 1 1 430"/>
<path d="M81 112.5h424" stroke-dasharray="1 2 1 8 1 2 1 28 1 23 1 4 1 2 1 3 3 1 3 1 1 7 1 3 1 1 20 1 1 2 1 1 1 1 9 1 7 1 1 1 2 1 10 1 3 1 5 1 2 1 1 2 1 3 1 2 1 1 1 4 1 1 1 1 1 12 1 1 1 20 1 1 1 4 1 22 1 6 1 17 1 5 1 7 1 9 1 2 1 5 2 4 1 2 1 1 3 21 3 2 1 1 2 30 3 1 3 1 6 1 4 1 2 430"/>
<path d="M78 113.5h427" stroke-dasharray="1 4 1 43 1 4 1 1 1 7 1 1 1 1 1 9 1 2 1 8 1 3 3 1 1 2 1 2 1 1 2 1 3 1 1 1 2 1 1 1 1 1 2 1 1 2 5 17 3 1 2 1 1 18 1 2 1 2 1 2 1 3 1 2 1 2 1 8 2 2 1 1 2 6 1 5 1 20 2 1 1 1 1 2 1 1 1 13 1 2 1 4 1 3 1 11 1 1 1 4 1 2 1 1 1 5 1 1 1 1 1 2 1 1 3 1 1 1 2 4 2 1 2 25 1 1 1 1 2 51 2 1 1 430"/>
<path d="M113 114.5h392" stroke-dasharray="1 9 1 3 1 7 2 1 1 1 1 1 1 5 1 1 2 1 1 1 1 2 1 1 2 2 2 4 1 1 1 2 1 3 1 1 1 2 1 1 1 1 1 1 2 1 2 1 2 1 1 1 2 2 1 1 1 1 1 19 2 1 2 22 1 1 1 7 1 4 1 7 1 5 1 5 1 4 1 2 1 4 2 11 1 1 1 1 1 1 1 7 1 5 1 5 1 1 4 2 2 4 2 6 1 1 1 2 1 1 1 2 2 1 2 3 1 6 1 1 8 1 2 1 1 2 3 1 3 26 4 1 1 53 2 430"/>
<path d="M126 115.5h379" stroke-dasharray="1 2 2 11 1 2 1 2 2 2 1 6 1 2 1 4 1 3 1 2 1 1 1 1 1 2 1 1 1 1 4 1 1 2 3 2 1 1 1 3 1 1 1 1 3 18 5 22 1 2 1 1 1 1 1 3 1 13 1 5 1 3 1 2 1 6 1 12 1 1 1 1 2 1 1 1 8 1 4 1 1 2 5 1 5 1 6 1 1 7 3 1 6 1 6 1 2 1 1 1 3 16 4 29 1 1 1 54 2 430"/>
<path d="M111 116.5h394" stroke-dasharray="1 8 1 4 1 6 1 1 1 1 1 1 1 1 1 3 1 2 1 3 1 3 1 1 1 2 1 4 3 1 1 2 1 1 1 1 1 4 1 2 1 3 1 8 1 3 1 1 1 2 1 1 1 1 11 1 4 1 5 1 2 20 2 1 1 1 1 4 1 8 1 2 1 4 1 3 1 11 1 17 4 14 3 1 1 1 3 16 3 1 1 2 3 16 1 1 4 20 1 29 1 1 2 55 1 430"/>
<path d="M127 117.5h378" stroke-dasharray="1 2 1 1 1 9 1 1 1 2 1 2 1 1 1 1 1 1 1 1 2 1 3 7 1 1 1 4 1 1 1 1 1 1 1 4 2 1 1 1 2 2 1 1 1 2 1 1 1 1 1 1 1 1 1 2 1 1 2 1 1 1 2 1 1 2 2 2 24 2 1 2 1 1 1 5 1 2 2 2 1 34 1 3 1 1 1 20 2 1 2 18 1 4 1 21 1 53 3 57 1 430"/>
<path d="M118 118.5h387" stroke-dasharray="1 5 1 1 1 8 1 1 1 3 1 5 1 5 1 9 1 1 2 2 1 7 1 3 1 4 1 1 1 1 1 2 1 4 1 2 1 2 1 7 1 3 1 1 1 1 2 2 2 1 1 1 1 5 1 1 2 1 10 1 1 1 1 1 1 1 1 1 1 1 1 3 1 1 1 4 1 1 1 3 1 1 1 3 1 2 1 2 1 1 1 4 1 3 1 11 1 1 1 22 3 19 2 4 1 20 3 51 3 1 1 53 2 430"/>
<path d="M128 119.5h377" stroke-dasharray="1 3 1 3 1 2 2 4 1 2 2 1 2 2 1 2 1 1 1 2 1 3 1 1 1 1 1 1 1 1 1 3 1 2 2 1 1 2 1 3 1 2 2 6 1 2 1 2 1 4 1 1 1 1 1 1 1 4 1 2 1 2 1 1 2 1 2 1 1 2 1 1 2 1 1 2 2 1 2 8 1 3 1 2 1 27 1 1 1 13 2 22 4 18 2 3 2 20 1 1 1 22 1 27 3 1 1 1 1 54 1 430"/>
<path d="M81 120.5h424" stroke-dasharray="1 29 1 4 1 1 1 1 1 9 1 2 1 2 1 2 2 2 1 5 1 3 1 1 1 2 1 4 1 6 1 2 1 3 2 1 1 3 1 3 1 1 1 3 1 2 1 1 1 1 1 2 2 3 2 1 1 10 1 2 1 3 1 2 2 1 1 2 1 2 1 3 1 2 2 1 1 3 1 4 1 8 1 2 1 6 1 1 1 5 1 2 1 1 1 7 1 11 1 2 1 20 1 2 3 17 2 5 2 16 5 21 4 24 2 1 1 2 4 24 4 20 2 1 1 430"/>
<path d="M80 121.5h425" stroke-dasharray="1 41 1 11 1 5 2 2 1 1 1 1 1 1 1 5 1 1 1 3 1 2 1 1 1 1 1 4 1 1 1 3 1 1 2 2 1 5 1 3 1 1 1 2 1 2 1 2 1 1 1 1 2 1 2 1 1 2 2 1 1 2 1 2 1 1 1 5 1 2 1 2 1 2 1 1 1 6 1 1 3 4 1 1 2 6 1 4 1 5 1 4 1 1 1 6 1 15 1 1 3 14 2 1 1 1 1 1 18 1 1 6 1 1 1 1 9 1 3 1 1 1 4 19 7 20 4 1 1 1 1 1 1 1 23 1 5 1 7 1 1 1 3 1 2 1 2 2 1 3 1 430"/>
<path d="M115 122.5h390" stroke-dasharray="1 8 1 1 1 2 1 2 2 1 1 1 3 4 1 7 1 1 2 4 1 1 2 1 1 1 1 1 1 1 1 1 1 1 1 2 1 8 1 1 2 2 1 4 1 2 1 4 1 11 1 2 1 2 2 5 2 1 1 3 1 1 1 2 1 1 1 3 1 1 1 1 1 7 1 8 1 7 1 2 1 1 1 9 1 2 1 17 1 1 1 1 1 2 3 1 1 1 4 1 3 1 1 1 1 1 1 1 1 4 3 1 4 1 1 2 1 4 1 4 2 1 2 2 1 2 1 1 2 7 3 16 1 2 1 1 1 1 23 2 1 5 1 2 4 1 1 2 1 1 1 1 2 1 6 2 1 1 1 1 2 1 1 1 1 2 2 1 2 1 1 3 1 1 2 2 1 430"/>
<path d="M76 123.5h429" stroke-dasharray="2 29 1 12 1 7 1 1 2 3 1 10 1 2 2 1 1 2 1 1 2 1 1 6 1 3 1 1 1 2 1 2 1 2 1 3 1 1 1 3 2 1 1 1 1 1 2 1 1 5 1 1 1 2 1 1 1 10 1 1 1 7 1 1 1 1 1 1 1 1 1 5 1 3 2 2 2 1 1 2 1 5 1 2 1 4 1 3 1 3 2 14 1 16 1 1 1 1 1 2 1 4 1 2 1 2 1 3 1 1 1 1 1 3 1 1 1 8 1 8 1 1 1 3 1 7 1 5 1 2 1 1 7 1 2 1 4 1 1 1 1 1 1 1 1 1 5 2 1 1 5 4 4 9 1 1 1 2 1 2 1 5 1 1 1 1 1 3 2 1 1 2 1 1 1 1 1 6 1 3 1 1 1 2 1 1 1 2 1 430"/>
<path d="M114 124.5h391" stroke-dasharray="1 2 1 5 2 2 1 1 1 2 2 2 1 5 2 2 1 1 1 2 1 3 1 1 1 6 2 2 1 1 1 3 2 6 2 6 1 3 1 1 1 6 2 2 1 2 1 1 1 2 1 2 1 1 1 3 1 2 1 1 2 3 2 2 1 4 1 2 2 3 1 1 1 2 1 6 1 2 1 8 1 1 1 6 1 7 1 5 2 1 1 15 1 1 1 3 1 3 1 4 1 1 1 8 1 4 1 16 1 24 1 2 1 1 1 1 1 2 2 1 1 1 1 2 1 6 1 6 1 1 1 1 1 1 1 1 1 3 1 8 1 4 1 8 1 2 1 1 1 6 1 5 1 8 1 2 1 1 1 10 1 430"/>
<path d="M111 125.5h394" stroke-dasharray="1 13 1 3 1 6 1 1 1 1 1 3 1 2 1 4 1 3 1 1 1 1 1 2 1 8 2 3 4 5 3 2 1 2 1 1 1 2 2 2 1 1 4 1 1 1 1 1 1 5 1 1 1 1 1 2 1 3 1 1 1 2 1 2 1 1 2 4 1 1 1 2 1 9 1 3 1 2 1 2 1 6 1 3 1 2 1 3 1 5 1 3 1 2 1 2 1 8 1 9 1 3 1 16 1 27 1 7 1 12 1 1 1 1 1 2 1 2 1 4 1 1 1 5 1 6 1 10 1 3 1 10 1 2 1 5 1 2 1 4 1 3 1 5 1 16 1 430"/>
<path d="M109 126.5h396" stroke-dasharray="1 10 1 2 1 3 1 2 1 1 1 1 1 2 1 1 1 2 1 3 1 2 2 1 1 1 1 2 1 1 1 1 1 2 3 1 1 2 1 2 1 2 1 3 1 2 1 6 1 1 1 1 1 1 1 1 1 3 1 2 1 3 1 1 2 1 1 1 1 1 1 5 1 2 1 1 1 8 1 3 2 4 1 4 1 3 1 2 1 6 1 4 1 10 1 2 1 7 1 27 1 11 1 2 1 14 1 11 1 5 1 21 2 3 1 7 1 1 1 15 1 2 1 6 1 10 1 10 1 1 1 2 1 3 2 22 1 9 1 430"/>
<path d="M126 127.5h379" stroke-dasharray="1 5 1 1 1 1 1 4 1 1 1 1 1 1 2 4 1 1 2 4 1 6 1 1 1 2 1 3 1 4 1 1 1 1 1 3 1 2 1 2 1 4 2 2 1 2 1 1 1 3 1 1 1 1 1 1 1 1 2 2 2 1 1 2 2 1 1 1 1 3 1 2 1 1 3 2 1 3 1 1 1 1 1 3 2 2 1 3 1 3 1 2 1 1 1 3 1 6 1 17 1 9 1 1 1 12 1 9 1 1 1 44 1 8 1 2 1 6 1 9 1 4 1 9 1 3 1 1 1 3 1 4 1 7 1 3 1 2 1 1 1 3 1 1 1 22 1 430"/>
<path d="M111 128.5h394" stroke-dasharray="1 11 1 2 1 1 1 1 2 1 1 2 1 3 2 1 1 1 1 3 3 1 1 3 2 1 1 2 1 1 1 3 1 2 1 1 1 8 1 5 1 2 1 2 1 3 2 2 1 3 1 5 1 1 1 3 1 4 1 5 1 2 1 1 1 2 1 1 1 2 1 4 1 2 1 9 2 9 1 8 2 3 1 3 1 1 1 4 1 5 1 6 1 5 1 31 1 10 1 8 1 28 1 51 1 5 1 5 1 2 1 1 1 430"/>
<path d="M93 129.5h412" stroke-dasharray="1 8 1 5 1 16 1 2 1 6 1 1 1 1 1 8 1 6 1 2 1 7 1 1 1 1 2 1 1 2 1 2 2 2 2 1 2 2 1 5 1 7 2 6 1 1 1 1 1 2 1 3 1 1 2 1 1 3 1 3 1 3 1 1 2 1 1 2 1 1 1 1 3 4 1 1 1 7 1 1 1 1 1 1 1 1 1 2 1 12 1 12 1 1 1 122 1 15 1 4 1 3 1 2 1 9 1 27 1 430"/>
<path d="M77 130.5h428" stroke-dasharray="1 27 1 4 1 7 2 4 1 4 1 3 1 1 1 4 1 3 1 2 1 5 1 2 1 3 1 1 1 1 1 2 2 7 1 2 1 2 1 5 1 3 2 1 1 3 1 1 1 4 3 8 1 1 1 1 1 1 1 1 1 4 1 3 1 2 1 2 1 6 1 1 1 4 1 2 1 1 1 6 1 4 1 7 1 4 2 1 1 5 1 3 1 2 1 3 1 2 1 5 1 4 1 2 1 3 1 3 1 3 1 3 1 4 1 13 1 12 1 79 1 4 1 5 1 10 1 2 1 430"/>
<path d="M100 131.5h405" stroke-dasharray="1 1 1 3 1 5 1 1 1 3 1 2 1 1 1 2 1 1 1 7 1 1 1 3 1 1 1 1 1 1 1 3 1 1 1 1 2 1 1 1 1 1 1 1 1 7 3 1 1 1 1 3 1 1 1 3 1 1 1 1 1 3 1 1 2 2 1 2 1 2 1 1 1 1 2 1 1 1 1 5 1 1 1 1 2 1 1 1 1 2 1 1 2 2 2 1 1 5 1 1 1 2 1 1 1 3 1 1 1 1 1 2 1 6 1 1 1 3 1 7 1 2 1 1 1 3 1 10 1 5 1 14 1 2 1 27 1 45 1 14 1 29 1 3 1 4 1 1 1 4 1 3 1 430"/>
<path d="M116 132.5h389" stroke-dasharray="1 2 1 7 1 3 2 2 1 3 1 6 1 2 1 1 1 7 1 1 1 1 1 5 2 1 1 3 1 3 1 1 1 2 1 1 2 6 1 2 1 3 1 2 1 1 1 2 1 4 1 4 1 5 1 2 2 2 1 2 1 1 3 3 1 2 1 1 2 2 1 3 1 7 1 5 1 3 1 11 2 8 1 5 1 1 1 2 1 6 1 3 1 2 1 2 1 1 1 12 1 42 1 67 1 1 1 4 1 2 1 9 1 4 1 18 1 430"/>
<path d="M98 133.5h407" stroke-dasharray="1 3 1 1 1 3 1 4 1 2 1 1 1 2 1 3 1 2 1 1 1 2 1 2 1 1 1 1 1 1 2 3 1 4 1 2 1 1 1 2 1 1 1 4 2 4 2 4 1 4 1 5 1 13 1 2 2 4 1 2 3 1 1 2 2 1 1 7 1 1 1 3 1 1 1 1 1 1 1 9 1 2 2 1 1 10 1 4 1 1 1 2 1 1 1 2 1 1 1 1 1 13 1 3 1 2 1 6 1 3 1 7 1 2 1 3 1 18 1 4 1 78 1 5 1 8 1 2 1 2 1 2 1 2 1 430"/>
<path d="M80 134.5h425" stroke-dasharray="1 16 1 2 1 13 1 7 1 1 1 2 1 1 1 4 1 9 1 3 1 1 1 5 1 1 1 2 2 3 1 2 1 7 2 2 1 4 1 1 1 3 1 1 1 2 1 1 1 1 1 10 1 4 1 2 1 1 1 1 2 2 1 2 2 3 1 1 1 5 2 2 1 1 1 1 1 1 1 4 1 3 1 4 1 1 2 1 1 2 1 1 1 2 1 9 1 5 1 6 1 13 1 4 1 7 1 15 1 12 1 19 1 2 1 4 1 4 1 2 1 48 1 4 1 16 1 3 1 14 1 430"/>
<path d="M77 135.5h428" stroke-dasharray="1 6 1 18 1 1 1 2 1 2 1 4 1 10 1 4 2 3 1 2 1 4 1 4 1 1 1 6 1 4 1 1 2 1 1 1 1 2 1 2 1 5 1 1 1 3 1 1 1 2 1 2 1 4 2 1 1 1 2 1 1 1 1 2 1 3 1 1 1 1 2 2 1 1 2 7 1 1 3 3 1 4 2 8 1 2 1 1 1 6 1 7 1 1 2 2 1 2 1 2 1 34 1 5 1 3 1 12 1 2 1 3 1 10 1 20 1 60 1 3 1 1 1 1 1 3 1 1 1 3 1 430"/>
<path d="M91 136.5h414" stroke-dasharray="1 7 1 2 1 9 1 1 1 6 2 1 1 3 1 1 1 1 1 1 1 1 1 4 1 1 1 2 1 1 1 1 1 1 1 2 1 2 1 1 1 1 1 1 1 2 1 5 1 1 1 5 1 2 1 5 1 2 1 3 1 1 2 3 1 1 1 1 1 4 1 2 1 3 1 2 1 2 1 2 1 3 1 1 1 1 1 5 1 1 1 7 1 1 1 1 1 1 1 3 1 4 1 1 1 7 1 2 1 4 1 3 1 1 1 4 1 10 1 6 1 3 1 10 1 11 1 10 1 22 1 5 1 3 1 26 1 7 1 37 1 3 1 3 1 6 1 2 1 430"/>
<path d="M77 137.5h428" stroke-dasharray="1 20 1 5 1 3 1 1 1 12 1 2 2 1 1 2 1 3 1 2 1 8 1 2 1 2 1 2 1 5 1 1 1 2 1 1 1 4 1 3 2 3 1 2 1 2 1 1 1 2 1 1 1 1 1 9 2 1 1 3 1 2 1 2 1 1 2 2 1 1 1 3 1 1 1 3 1 6 3 5 2 2 1 4 1 7 1 1 1 1 1 8 1 2 1 4 1 1 1 7 1 6 1 11 1 2 1 12 1 10 1 14 1 7 1 2 1 3 1 13 1 6 1 48 1 3 1 1 1 6 1 2 1 6 1 2 1 430"/>
<path d="M92 138.5h413" stroke-dasharray="1 8 1 1 1 8 1 4 1 2 1 1 1 1 1 7 1 9 1 2 1 1 1 5 1 2 1 3 1 1 1 5 1 1 1 2 2 5 1 1 1 11 1 2 1 5 2 1 2 4 1 2 1 1 1 2 2 4 2 3 1 1 1 1 1 1 1 1 1 1 1 5 2 2 1 1 1 6 1 2 1 1 1 1 1 2 1 8 1 4 1 2 1 3 1 9 1 4 1 10 1 11 1 10 1 5 1 8 1 3 2 1 1 7 1 1 1 16 1 43 1 11 1 5 1 5 1 1 1 5 2 3 1 430"/>
<path d="M97 139.5h408" stroke-dasharray="1 3 1 5 1 2 1 3 1 2 1 2 1 4 1 1 2 6 2 1 1 4 2 3 1 1 1 3 2 3 1 3 3 1 1 4 1 2 1 2 2 3 2 2 1 4 3 2 1 1 1 1 1 6 1 3 1 1 2 7 1 3 2 3 1 1 1 1 1 1 1 4 1 5 1 1 1 9 1 1 1 5 1 2 1 2 1 1 1 9 1 1 1 2 1 1 1 3 1 11 1 9 1 4 1 1 1 4 1 17 1 8 1 7 1 18 1 48 1 18 1 5 1 1 1 5 1 430"/>
<path d="M78 140.5h427" stroke-dasharray="1 14 2 2 1 5 1 4 1 2 1 5 1 1 1 3 2 1 1 3 1 5 1 3 3 10 1 2 2 2 3 3 1 2 1 4 2 2 1 1 1 6 2 1 1 3 1 2 1 3 2 1 1 2 2 3 1 1 1 1 2 1 1 3 1 1 2 1 1 1 1 7 1 1 1 1 1 1 1 1 1 1 1 4 1 1 1 1 1 2 1 7 1 4 1 4 1 2 1 1 1 1 1 3 1 5 1 5 1 1 1 2 1 7 1 3 1 3 1 14 2 3 1 4 1 9 1 8 1 18 1 7 1 6 1 9 1 12 1 17 1 8 2 15 1 2 1 2 1 430"/>
<path d="M82 141.5h423" stroke-dasharray="1 15 1 7 1 3 1 11 1 3 1 1 1 1 1 1 1 1 1 3 2 2 1 2 1 1 1 3 1 2 2 2 2 4 1 5 2 5 1 2 1 2 1 2 1 2 1 1 1 3 2 2 2 1 1 2 1 3 1 4 1 1 1 2 1 2 1 1 1 1 1 1 1 1 1 1 2 1 2 3 1 4 1 1 1 3 1 2 1 4 1 2 1 2 1 6 1 11 1 6 1 7 1 20 1 15 1 7 1 38 1 4 1 2 1 56 1 5 1 4 1 2 1 3 1 430"/>
<path d="M79 142.5h426" stroke-dasharray="1 2 1 1 2 5 1 4 1 8 1 2 1 3 1 1 1 1 1 3 1 1 1 1 2 5 1 1 1 2 1 4 1 1 1 3 1 6 1 6 1 3 1 6 1 1 1 1 1 1 1 4 1 4 1 3 1 1 1 3 1 3 1 1 1 7 2 6 1 1 1 4 1 7 1 2 1 1 1 2 1 4 1 2 1 1 1 3 1 3 1 6 1 11 1 1 1 3 2 1 1 7 1 4 1 3 1 1 1 9 1 9 1 1 1 12 1 5 1 1 1 12 1 8 1 5 1 1 1 15 1 1 1 17 1 14 1 3 1 2 1 10 1 4 1 5 2 5 1 1 1 2 1 6 1 430"/>
<path d="M76 143.5h429" stroke-dasharray="1 10 1 10 1 3 1 13 1 1 1 4 1 2 2 4 1 4 1 1 1 1 1 2 2 3 1 1 1 1 1 2 1 1 2 2 1 1 1 3 1 1 1 2 2 4 1 1 1 4 1 2 2 9 2 2 2 1 1 2 1 2 1 2 1 2 1 4 1 1 1 2 3 4 1 1 1 3 1 1 1 1 1 1 1 3 1 1 1 5 1 3 1 1 2 4 1 2 1 2 1 6 1 5 2 1 1 3 1 1 1 7 1 3 1 5 1 1 2 1 1 1 1 6 1 2 1 17 1 6 1 4 1 6 1 8 1 20 1 38 1 12 1 2 1 1 1 3 1 8 1 19 1 5 1 430"/>
<path d="M90 144.5h415" stroke-dasharray="1 10 1 2 1 1 1 5 1 3 1 7 2 2 1 5 2 7 1 1 1 1 2 2 1 3 2 3 1 2 1 3 1 2 1 1 1 2 1 2 1 4 1 4 1 2 1 2 1 3 2 2 1 1 1 3 1 1 1 3 1 2 1 3 1 12 1 1 1 2 1 2 1 1 1 2 1 3 1 6 1 3 1 3 1 3 1 9 1 1 1 7 1 7 1 5 1 2 1 6 1 2 1 13 1 12 1 2 1 26 1 15 1 3 1 1 1 2 1 33 1 9 1 3 1 4 1 12 3 430"/>
<path d="M76 145.5h429" stroke-dasharray="1 1 1 5 1 5 1 5 1 3 1 4 1 4 1 7 1 1 1 6 1 1 1 1 1 2 1 1 2 1 1 8 1 5 1 4 1 5 1 1 1 1 2 3 1 2 1 1 1 5 1 1 1 5 1 1 2 1 1 1 2 2 1 1 1 1 1 1 1 3 1 2 1 2 1 1 1 2 1 3 1 2 1 1 1 1 1 2 1 6 1 1 1 1 1 4 1 3 1 5 1 2 1 4 1 4 1 1 1 7 1 4 1 2 1 4 1 1 1 3 1 8 1 1 1 10 1 4 1 11 1 2 1 1 1 2 1 3 1 6 1 3 1 2 1 7 1 14 1 9 1 4 1 27 1 10 1 4 1 4 1 9 1 1 1 18 1 430"/>
<path d="M81 146.5h424" stroke-dasharray="1 1 1 1 1 5 1 3 1 2 1 13 1 3 1 1 1 2 1 2 1 1 1 1 1 5 1 1 1 3 1 1 1 1 1 1 1 3 1 2 1 1 2 1 1 1 1 1 1 1 1 2 1 2 1 2 1 7 1 3 1 2 1 5 1 7 1 2 1 2 1 2 1 1 1 1 1 2 1 1 1 1 1 1 1 1 1 3 1 4 1 2 1 1 1 1 2 1 1 8 1 3 1 2 1 2 1 5 1 3 1 2 1 1 1 2 1 3 1 3 1 3 1 4 1 7 1 6 1 21 1 2 1 4 1 5 1 3 1 21 1 1 1 6 1 1 1 3 1 11 1 25 1 1 1 13 1 1 1 8 1 4 1 2 1 430"/>
<path d="M76 147.5h429" stroke-dasharray="2 1 1 10 1 9 1 6 1 1 2 2 1 1 1 4 2 1 1 3 1 3 1 1 1 4 1 3 1 3 1 1 1 2 1 2 1 3 1 1 1 4 1 3 1 2 1 2 2 1 2 2 2 6 1 1 1 3 1 3 1 12 1 2 1 1 1 1 1 2 1 1 1 1 1 1 1 1 1 4 1 2 1 1 1 4 2 4 2 2 1 6 1 2 1 2 1 5 1 10 1 1 1 21 1 5 1 3 1 7 1 11 1 15 1 1 1 2 1 1 1 5 1 13 1 12 1 22 1 2 1 14 1 15 1 4 1 6 1 3 1 5 1 430"/>
<path d="M86 148.5h419" stroke-dasharray="1 2 1 2 1 5 1 5 1 1 1 4 1 5 1 7 1 1 1 1 1 3 1 1 1 3 1 1 1 8 1 6 1 2 1 1 2 1 1 1 1 2 1 6 1 3 1 2 2 2 1 8 2 1 3 2 1 1 1 1 1 1 1 1 1 1 2 1 1 1 1 5 2 2 1 3 1 1 1 4 1 1 1 3 1 1 2 1 1 4 1 11 1 5 1 7 1 11 1 4 1 5 1 7 1 7 1 4 1 4 1 11 1 2 1 5 1 2 1 2 1 7 1 11 1 1 1 3 1 4 1 1 1 18 1 4 1 1 1 19 1 11 1 3 1 2 1 4 1 4 1 430"/>
<path d="M76 149.5h429" stroke-dasharray="1 7 1 2 1 11 1 2 1 4 1 2 1 2 1 2 1 3 1 2 1 1 1 1 1 2 1 5 2 4 1 2 1 1 1 1 1 2 3 3 1 1 1 1 1 1 1 2 1 1 1 2 4 1 2 3 1 4 1 2 2 1 1 1 1 2 1 5 1 1 1 3 1 7 1 3 2 1 1 2 1 1 1 2 1 2 2 3 1 1 1 1 1 1 1 1 1 1 1 2 1 3 1 2 1 6 1 2 1 2 1 4 2 4 1 11 1 1 1 8 1 17 1 1 1 20 1 21 1 16 1 9 1 4 1 29 1 1 1 16 1 6 1 3 1 1 1 3 1 430"/>
<path d="M77 150.5h428" stroke-dasharray="1 2 1 4 1 3 1 3 1 2 1 2 1 4 1 7 1 10 1 3 1 1 1 2 2 3 1 4 1 1 2 3 1 2 1 2 1 3 1 1 2 3 1 3 1 1 1 3 1 3 1 2 1 1 1 6 1 1 1 1 1 2 1 1 1 1 1 1 1 3 1 3 1 3 1 2 1 6 1 1 1 2 1 2 1 2 1 1 1 2 1 3 1 5 1 1 1 5 1 1 1 3 1 9 1 5 1 2 1 2 1 1 1 2 1 16 1 2 1 13 1 5 1 1 1 1 1 3 1 5 1 6 1 4 1 18 1 2 1 12 1 15 1 1 1 44 1 14 1 430"/>
<path d="M81 151.5h424" stroke-dasharray="2 9 1 2 1 7 1 6 1 10 1 3 1 2 1 2 1 3 1 2 1 1 1 3 1 2 1 8 1 1 1 1 1 7 1 3 1 1 2 1 1 1 1 1 1 4 1 2 1 4 1 1 1 2 3 5 1 4 1 3 1 1 1 1 1 1 1 2 1 4 1 2 1 1 1 1 1 1 1 1 1 6 1 1 3 3 2 6 1 1 1 2 1 1 1 1 1 11 1 6 1 5 1 2 1 2 1 13 1 5 1 19 1 20 1 2 1 5 1 2 1 11 1 2 1 9 1 11 1 13 1 4 1 8 1 10 1 1 1 11 1 430"/>
<path d="M76 152.5h429" stroke-dasharray="1 2 1 2 1 18 1 5 2 2 1 3 1 1 3 4 1 4 1 6 1 4 2 2 1 3 2 3 1 5 1 1 2 1 1 3 1 1 1 1 1 2 1 3 1 3 1 1 1 4 2 4 1 1 1 1 1 5 2 1 1 1 1 2 1 7 1 2 1 2 1 2 1 8 1 1 1 3 1 8 1 2 2 2 1 1 1 5 1 2 1 2 1 3 1 5 1 4 1 2 1 4 1 9 1 10 1 5 1 1 1 1 1 1 1 1 1 11 1 3 1 1 1 2 1 18 1 4 1 2 2 5 1 4 1 2 1 19 1 32 1 8 1 2 1 8 1 430"/>
<path d="M83 153.5h422" stroke-dasharray="1 6 1 3 1 2 1 1 1 3 1 2 1 7 1 4 1 1 2 1 2 1 1 2 1 1 2 1 1 2 1 3 1 1 1 1 1 1 1 1 2 1 1 2 4 2 1 1 1 2 1 1 2 1 1 2 1 1 2 2 1 1 2 5 1 3 1 10 1 4 1 2 2 1 1 2 1 5 1 1 2 5 1 1 1 7 1 5 1 1 1 1 1 2 1 11 1 1 1 4 1 1 1 3 1 2 1 3 1 1 1 1 1 5 1 8 1 29 1 30 1 23 1 10 1 11 1 7 1 29 1 6 1 4 1 430"/>
<path d="M76 154.5h429" stroke-dasharray="1 1 1 3 1 4 1 14 1 4 1 2 1 2 1 2 1 3 1 1 1 5 1 2 1 5 1 4 1 1 1 1 1 2 1 4 1 6 1 1 1 1 1 1 1 3 1 1 1 5 1 8 1 1 1 2 1 2 1 3 1 1 1 3 1 1 1 2 1 2 1 3 1 1 1 1 1 1 1 3 1 2 1 3 1 4 1 1 2 3 1 3 1 1 2 2 1 3 1 1 1 2 1 1 1 5 1 1 1 2 1 4 1 12 1 1 1 1 1 1 1 5 1 5 2 1 1 3 1 5 1 6 1 7 1 3 1 6 1 12 1 22 1 4 1 5 1 29 1 13 1 10 1 18 1 430"/>
<path d="M83 155.5h422" stroke-dasharray="1 1 1 3 1 1 1 2 1 9 1 1 1 1 2 12 1 4 1 4 1 3 1 1 1 2 1 7 1 1 1 1 1 2 1 4 1 1 1 1 1 1 1 4 1 2 1 2 1 1 1 3 1 1 1 1 1 2 1 1 1 1 1 1 1 1 1 3 1 1 1 1 2 1 1 4 1 2 1 2 1 1 2 1 1 1 1 1 1 1 1 5 1 2 1 2 1 1 1 2 1 3 1 2 1 7 1 7 1 3 1 1 1 2 1 3 1 4 2 2 1 1 1 8 1 7 1 4 1 2 1 15 1 2 1 9 1 1 1 6 1 4 1 18 1 2 1 27 1 7 1 10 1 2 1 2 1 430"/>
<path d="M80 156.5h425" stroke-dasharray="1 6 1 4 1 2 1 5 1 9 1 3 1 1 1 1 1 5 1 2 1 1 1 1 1 1 1 7 1 1 1 1 1 3 1 2 1 2 1 1 2 3 1 3 1 2 1 2 1 1 1 2 1 2 1 1 2 5 1 2 1 5 1 1 1 2 1 4 1 3 1 6 1 1 1 3 1 3 1 3 3 1 1 6 1 1 2 1 1 1 1 1 2 1 1 1 1 1 1 3 1 1 1 1 1 4 1 2 1 5 1 5 1 10 1 2 1 4 1 3 1 4 1 5 1 2 1 5 1 7 1 4 1 8 1 2 1 9 1 1 1 4 1 5 1 17 1 11 1 11 1 9 1 17 1 47 1 430"/>
<path d="M81 157.5h424" stroke-dasharray="1 13 1 6 2 4 1 4 1 1 1 4 1 8 1 1 2 1 2 1 1 2 1 10 1 5 1 5 1 1 1 3 2 1 1 3 1 5 1 3 1 1 1 5 1 1 1 3 1 1 1 3 1 3 1 3 2 1 1 1 1 1 1 1 1 4 1 2 1 1 1 5 1 3 1 2 1 2 1 2 1 1 1 2 1 2 1 2 1 8 2 1 1 3 1 8 1 1 1 1 1 5 1 7 1 3 1 3 1 4 1 6 1 8 1 7 1 3 1 5 1 6 1 3 1 12 1 33 1 14 1 14 1 12 1 13 1 430"/>
<path d="M76 158.5h429" stroke-dasharray="1 14 1 5 1 4 1 2 1 5 1 5 1 1 1 4 1 1 1 5 1 5 1 3 1 1 1 1 1 1 1 1 1 1 1 2 1 3 2 2 1 2 1 7 1 2 1 1 1 1 2 1 1 2 1 4 2 3 2 4 2 1 1 3 1 1 2 2 1 1 1 1 1 1 1 1 2 1 1 1 2 2 1 3 1 6 1 3 1 2 2 3 1 2 1 1 1 1 1 2 1 1 1 1 1 6 1 1 1 3 2 2 1 6 2 6 1 1 1 2 1 9 1 3 2 2 1 14 1 7 1 1 1 9 1 9 1 3 1 9 1 1 1 2 1 1 1 16 1 30 1 38 1 430"/>
<path d="M75 159.5h430" stroke-dasharray="1 2 1 2 1 1 1 3 1 2 1 8 1 2 1 3 1 8 1 3 1 1 1 5 1 1 1 3 1 1 1 3 1 1 1 3 1 3 1 4 1 1 1 1 1 2 2 4 1 1 1 2 1 5 1 1 1 5 1 1 2 1 1 2 1 1 1 2 1 1 1 5 1 6 1 2 1 4 1 1 1 1 1 5 1 2 1 2 3 1 1 1 2 3 1 2 1 2 1 4 1 13 1 1 1 1 1 2 1 3 1 3 1 1 1 4 1 2 1 5 1 2 1 11 1 6 1 6 1 2 1 13 1 4 1 5 1 22 1 10 1 4 1 5 1 6 1 11 1 8 1 430"/>
<path d="M87 160.5h418" stroke-dasharray="1 6 1 2 1 11 1 1 1 1 2 4 1 3 1 1 1 4 1 1 1 4 1 1 1 4 1 2 1 3 1 2 1 1 1 3 1 2 1 2 1 1 1 1 1 1 1 2 1 6 1 1 1 5 1 5 1 1 1 2 1 4 1 3 2 1 1 4 1 1 1 4 1 4 1 1 1 5 1 2 1 3 1 2 1 2 1 2 1 1 1 1 1 11 1 2 1 1 1 3 1 4 1 2 2 6 1 4 1 5 1 2 1 1 1 3 1 12 1 6 1 30 1 10 1 6 1 6 1 3 1 36 1 430"/>
<path d="M86 161.5h419" stroke-dasharray="1 5 1 5 1 3 2 1 1 2 1 2 1 1 1 2 1 4 2 3 4 9 1 2 1 2 1 1 1 1 1 1 3 1 2 2 1 5 1 7 1 2 3 4 1 1 1 2 2 1 2 1 1 3 1 1 1 1 1 1 1 2 2 3 1 2 2 4 1 3 1 2 1 1 1 1 1 1 3 2 1 1 1 7 1 3 2 2 1 1 1 2 1 3 1 1 1 1 1 4 1 1 1 12 1 12 1 2 1 3 1 2 1 3 1 11 2 14 1 18 1 8 1 4 1 1 1 3 1 12 1 6 1 8 1 4 1 430"/>
<path d="M79 162.5h426" stroke-dasharray="2 1 1 7 1 2 1 1 1 5 1 9 1 2 1 4 1 4 1 1 1 4 2 4 1 4 1 3 1 2 1 2 1 1 1 1 1 1 1 4 1 2 1 2 1 4 1 3 1 1 1 1 2 3 1 4 1 3 1 1 1 5 1 4 3 1 1 1 1 1 1 2 1 1 2 4 1 1 1 6 1 4 1 1 1 2 1 1 1 8 1 2 1 13 1 3 1 2 1 1 1 3 1 5 1 18 1 23 1 16 1 7 1 3 1 22 1 430"/>
<path d="M76 163.5h429" stroke-dasharray="2 10 1 5 1 3 2 3 1 2 1 1 1 7 1 1 1 2 1 1 1 4 2 4 1 1 1 2 1 1 1 1 2 9 2 1 1 1 2 1 1 1 2 1 1 2 2 1 1 1 1 8 1 2 1 3 3 1 1 4 1 1 2 2 1 5 1 2 1 3 1 2 1 2 1 4 1 3 1 1 1 2 2 2 1 2 1 3 1 2 1 2 1 3 1 2 1 6 1 1 1 8 1 2 1 4 1 1 1 4 1 5 1 3 1 8 1 4 1 5 1 3 1 2 1 1 1 3 1 2 1 1 1 4 1 1 1 3 1 30 1 4 1 1 1 2 1 13 1 23 1 430"/>
</g>
<g stroke="#959595">
<path d="M456 84.5h49" stroke-dasharray="4 1 2 1 3 430"/>
<path d="M451 85.5h54" stroke-dasharray="3 1 6 1 7 1 1 430"/>
<path d="M450 86.5h55" stroke-dasharray="6 1 15 430"/>
<path d="M450 87.5h55" stroke-dasharray="2 18 3 430"/>
<path d="M450 88.5h55" stroke-dasharray="1 20 2 430"/>
<path d="M449 89.5h56" stroke-dasharray="2 20 2 430"/>
<path d="M107 90.5h398" stroke-dasharray="3 1 3 1 1 1 5 327 2 20 2 430"/>
<path d="M103 91.5h402" stroke-dasharray="1 1 1 16 1 1 1 325 1 19 3 430"/>
<path d="M102 92.5h403" stroke-dasharray="1 22 1 4 2 16 2 300 4 1 1 11 5 430"/>
<path d="M102 93.5h403" stroke-dasharray="1 24 1 22 1 300 20 430"/>
<path d="M101 94.5h404" stroke-dasharray="1 24 1 24 1 108 1 2 1 16 1 1 1 171 3 1 3 1 7 430"/>
<path d="M101 95.5h404" stroke-dasharray="1 55 2 8 5 3 2 9 2 1 11 84 1 6 2 1 1 14 1 2 1 430"/>
<path d="M101 96.5h404" stroke-dasharray="1 50 1 3 1 20 1 5 1 1 1 14 1 1 1 55 1 26 1 4 1 22 1 1 2 2 1 13 1 1 1 430"/>
<path d="M101 97.5h404" stroke-dasharray="1 50 1 2 1 102 1 30 1 47 1 9 5 1 2 430"/>
<path d="M102 98.5h403" stroke-dasharray="1 23 2 24 1 1 2 22 1 25 1 52 1 84 1 16 1 430"/>
<path d="M102 99.5h403" stroke-dasharray="1 23 1 27 1 54 1 2 1 13 1 2 2 4 2 15 5 32 1 48 1 2 1 27 5 1 8 68 15 1 1 1 2 430"/>
<path d="M103 100.5h402" stroke-dasharray="1 1 1 16 1 1 1 2 1 23 1 2 1 25 1 24 1 1 1 23 1 1 1 55 1 48 1 2 1 18 1 8 6 1 4 1 2 66 2 21 2 430"/>
<path d="M78 101.5h427" stroke-dasharray="1 2 2 10 2 2 1 8 3 1 12 28 1 3 1 25 1 24 3 23 1 24 1 28 1 52 1 108 1 26 1 430"/>
<path d="M130 102.5h375" stroke-dasharray="2 16 2 5 1 22 1 25 3 52 1 24 1 58 1 14 1 87 2 27 1 430"/>
<path d="M76 103.5h429" stroke-dasharray="1 22 1 55 1 25 1 23 2 51 3 19 1 2 1 6 1 46 1 137 2 430"/>
<path d="M76 104.5h429" stroke-dasharray="1 22 1 77 1 26 1 2 1 48 2 51 1 2 5 1 1 15 1 1 1 108 1 430"/>
<path d="M76 105.5h429" stroke-dasharray="1 22 1 57 2 6 7 3 2 6 1 1 1 14 1 1 1 30 1 22 1 61 17 430"/>
<path d="M187 106.5h318" stroke-dasharray="13 9 1 2 1 13 1 2 2 1 2 20 2 63 1 1 14 110 1 430"/>
<path d="M78 107.5h427" stroke-dasharray="1 2 2 10 2 2 1 137 2 16 2 63 1 15 2 109 1 30 1 430"/>
<path d="M317 108.5h188" stroke-dasharray="2 16 1 10 10 430"/>
<path d="M319 109.5h186" stroke-dasharray="16 112 1 27 1 430"/>
<path d="M475 110.5h30" stroke-dasharray="1 430"/>
<path d="M447 111.5h58" stroke-dasharray="1 26 2 430"/>
<path d="M417 112.5h88" stroke-dasharray="11 1 8 11 1 26 2 430"/>
<path d="M211 113.5h294" stroke-dasharray="15 1 1 8 1 1 2 9 5 161 2 20 2 7 2 27 1 18 1 1 1 430"/>
<path d="M210 114.5h295" stroke-dasharray="1 17 1 5 1 18 1 1 1 241 2 430"/>
<path d="M211 115.5h294" stroke-dasharray="1 1 3 1 7 1 3 27 1 137 4 7 5 4 1 26 1 4 1 52 1 430"/>
<path d="M235 116.5h270" stroke-dasharray="1 1 1 16 1 65 4 1 2 1 2 1 2 10 1 14 1 10 1 14 1 25 1 1 1 32 1 430"/>
<path d="M317 117.5h188" stroke-dasharray="1 18 1 30 1 18 1 3 1 20 2 32 1 53 1 430"/>
<path d="M316 118.5h189" stroke-dasharray="1 24 2 16 1 7 1 18 1 24 2 27 1 5 1 51 1 430"/>
<path d="M316 119.5h189" stroke-dasharray="1 20 1 29 1 18 1 24 1 1 1 33 2 27 1 20 2 430"/>
<path d="M317 120.5h188" stroke-dasharray="1 18 1 6 1 14 1 10 1 14 1 5 1 25 1 20 1 11 2 19 3 4 4 13 3 430"/>
<path d="M320 121.5h185" stroke-dasharray="7 1 4 1 1 83 20 430"/>
<path d="M393 122.5h112" stroke-dasharray="4 7 5 430"/>
</g>
<g stroke="#898989">
<path d="M452 87.5h53" stroke-dasharray="2 1 12 1 2 430"/>
<path d="M451 88.5h54" stroke-dasharray="7 1 5 1 6 430"/>
<path d="M451 89.5h54" stroke-dasharray="20 430"/>
<path d="M451 90.5h54" stroke-dasharray="1 1 18 430"/>
<path d="M104 91.5h401" stroke-dasharray="1 1 16 1 1 328 18 430"/>
<path d="M103 92.5h402" stroke-dasharray="1 20 1 7 1 1 14 308 1 1 5 1 3 430"/>
<path d="M125 93.5h380" stroke-dasharray="2 2 3 16 2 430"/>
<path d="M102 94.5h403" stroke-dasharray="1 24 3 20 1 110 2 1 16 1 1 430"/>
<path d="M126 95.5h379" stroke-dasharray="3 22 1 7 8 5 3 84 2 22 1 9 1 1 9 1 4 1 2 430"/>
<path d="M126 96.5h379" stroke-dasharray="2 23 1 5 2 16 2 7 1 2 13 1 1 57 1 24 1 6 1 20 1 1 1 2 2 1 6 1 6 1 1 430"/>
<path d="M102 97.5h403" stroke-dasharray="1 23 2 23 1 4 1 20 1 4 2 18 2 86 1 24 1 20 1 430"/>
<path d="M125 98.5h380" stroke-dasharray="1 25 1 25 1 4 1 20 1 54 1 26 1 3 1 47 1 5 7 1 8 430"/>
<path d="M103 99.5h402" stroke-dasharray="1 20 2 1 2 22 1 3 1 22 1 2 1 22 1 5 1 2 2 1 6 1 3 1 2 8 15 5 2 26 1 51 1 21 1 430"/>
<path d="M106 100.5h399" stroke-dasharray="16 1 1 4 2 20 1 4 1 22 1 2 1 22 1 4 1 19 2 3 3 16 6 26 1 56 1 16 1 91 9 1 11 430"/>
<path d="M79 101.5h426" stroke-dasharray="2 2 8 1 1 2 2 32 3 16 2 5 1 22 1 2 1 22 1 3 1 21 1 1 3 20 1 1 2 25 1 4 1 47 1 4 2 14 2 88 4 18 4 430"/>
<path d="M78 102.5h427" stroke-dasharray="1 18 2 33 16 29 1 3 1 25 1 23 3 22 1 1 1 1 1 22 1 6 1 46 1 6 14 90 1 25 1 430"/>
<path d="M77 103.5h428" stroke-dasharray="1 20 1 57 1 20 1 4 1 20 2 2 1 23 2 23 2 3 19 1 1 9 1 20 4 20 1 109 1 430"/>
<path d="M77 104.5h428" stroke-dasharray="1 20 1 57 3 16 2 6 1 18 2 4 1 21 3 59 17 1 2 5 1 1 15 112 1 28 2 430"/>
<path d="M98 105.5h407" stroke-dasharray="1 60 6 7 3 9 1 1 14 1 1 6 2 19 4 1 1 20 1 190 1 29 1 430"/>
<path d="M77 106.5h428" stroke-dasharray="2 18 2 111 2 2 12 1 2 5 3 16 1 192 1 29 1 430"/>
<path d="M79 107.5h426" stroke-dasharray="2 2 10 2 2 140 1 1 12 1 1 66 15 112 1 28 1 430"/>
<path d="M320 108.5h185" stroke-dasharray="3 1 11 111 1 28 1 430"/>
<path d="M474 109.5h31" stroke-dasharray="1 430"/>
<path d="M447 110.5h58" stroke-dasharray="3 22 3 430"/>
<path d="M448 111.5h57" stroke-dasharray="4 18 4 430"/>
<path d="M449 112.5h56" stroke-dasharray="1 22 3 430"/>
<path d="M240 113.5h265" stroke-dasharray="6 1 2 168 3 14 3 11 1 25 1 1 17 430"/>
<path d="M211 114.5h294" stroke-dasharray="8 1 2 1 5 7 18 1 1 159 2 22 2 56 1 430"/>
<path d="M235 115.5h270" stroke-dasharray="3 14 3 142 7 10 1 24 1 6 1 430"/>
<path d="M236 116.5h269" stroke-dasharray="1 1 11 1 4 90 14 12 8 1 4 8 3 13 1 1 1 3 1 26 1 5 1 51 1 430"/>
<path d="M318 117.5h187" stroke-dasharray="17 8 1 14 2 8 2 14 2 5 1 17 2 2 1 26 1 5 1 430"/>
<path d="M317 118.5h188" stroke-dasharray="1 18 1 31 1 16 1 4 1 19 1 2 2 24 1 7 1 430"/>
<path d="M317 119.5h188" stroke-dasharray="1 18 1 5 2 14 2 8 2 14 2 4 1 19 1 3 2 22 2 9 1 22 4 1 2 430"/>
<path d="M318 120.5h187" stroke-dasharray="16 1 1 8 14 12 13 8 1 17 2 4 1 1 3 14 3 1 1 12 9 1 9 11 1 1 11 430"/>
<path d="M391 121.5h114" stroke-dasharray="3 13 3 430"/>
<path d="M397 122.5h108" stroke-dasharray="7 430"/>
</g>
<g stroke="#7d7d7d">
<path d="M104 92.5h401" stroke-dasharray="1 18 1 430"/>
<path d="M103 93.5h402" stroke-dasharray="1 20 1 7 16 430"/>
<path d="M125 94.5h380" stroke-dasharray="1 4 1 18 1 430"/>
<path d="M102 95.5h403" stroke-dasharray="1 47 1 110 1 20 1 430"/>
<path d="M102 96.5h403" stroke-dasharray="1 25 1 30 9 3 4 117 1 18 1 430"/>
<path d="M125 97.5h380" stroke-dasharray="1 2 1 28 1 18 1 7 2 14 2 82 1 28 2 1 2 17 1 430"/>
<path d="M103 98.5h402" stroke-dasharray="1 20 1 3 1 430"/>
<path d="M104 99.5h401" stroke-dasharray="1 18 1 5 1 20 1 26 1 4 1 160 2 12 2 430"/>
<path d="M130 100.5h375" stroke-dasharray="1 18 1 27 1 32 2 15 2 8 13 1 2 31 1 52 1 5 1 14 1 430"/>
<path d="M132 101.5h373" stroke-dasharray="16 29 1 31 1 19 1 5 1 18 1 4 1 30 1 53 14 94 18 430"/>
<path d="M79 102.5h426" stroke-dasharray="2 14 2 85 1 20 1 4 1 21 1 3 1 20 1 5 1 20 1 31 1 134 1 22 2 430"/>
<path d="M78 103.5h427" stroke-dasharray="1 18 1 78 1 31 1 21 1 2 1 21 1 36 1 18 1 4 2 17 1 111 1 430"/>
<path d="M159 104.5h346" stroke-dasharray="8 4 4 9 2 14 2 7 1 19 1 4 1 20 1 430"/>
<path d="M78 105.5h427" stroke-dasharray="1 18 1 112 2 15 2 6 1 18 1 220 1 430"/>
<path d="M79 106.5h426" stroke-dasharray="2 14 2 140 2 1 13 222 1 430"/>
<path d="M447 108.5h58" stroke-dasharray="1 26 1 430"/>
<path d="M448 109.5h57" stroke-dasharray="2 22 2 430"/>
<path d="M450 110.5h55" stroke-dasharray="8 1 11 1 1 430"/>
<path d="M452 111.5h53" stroke-dasharray="8 1 9 430"/>
<path d="M450 112.5h55" stroke-dasharray="22 430"/>
<path d="M420 113.5h85" stroke-dasharray="13 16 1 22 2 430"/>
<path d="M416 114.5h89" stroke-dasharray="1 20 1 9 1 26 7 13 2 430"/>
<path d="M238 115.5h267" stroke-dasharray="14 163 1 22 1 58 1 430"/>
<path d="M394 116.5h111" stroke-dasharray="13 7 1 24 1 430"/>
<path d="M344 117.5h161" stroke-dasharray="3 1 10 12 14 30 1 24 1 7 1 50 1 430"/>
<path d="M318 118.5h187" stroke-dasharray="2 14 2 7 1 14 1 10 1 14 1 6 1 17 1 5 1 22 1 9 1 25 3 20 1 430"/>
<path d="M318 119.5h187" stroke-dasharray="2 14 2 8 14 12 14 7 1 17 1 6 1 20 1 12 22 7 2 13 2 430"/>
<path d="M420 120.5h85" stroke-dasharray="14 430"/>
<path d="M394 121.5h111" stroke-dasharray="5 1 7 430"/>
</g>
<g stroke="#717171">
<path d="M105 92.5h400" stroke-dasharray="18 430"/>
<path d="M103 94.5h402" stroke-dasharray="1 27 1 16 1 430"/>
<path d="M129 95.5h376" stroke-dasharray="1 132 2 15 3 430"/>
<path d="M125 96.5h380" stroke-dasharray="1 3 1 20 1 17 3 89 1 22 1 9 2 14 2 430"/>
<path d="M103 97.5h402" stroke-dasharray="1 46 1 7 1 16 1 10 7 1 6 59 1 31 1 20 1 5 2 13 2 430"/>
<path d="M129 98.5h376" stroke-dasharray="1 20 1 5 1 19 1 6 1 18 1 56 1 24 1 29 2 20 1 430"/>
<path d="M105 99.5h400" stroke-dasharray="4 1 4 1 8 161 1 5 1 54 12 430"/>
<path d="M131 100.5h374" stroke-dasharray="1 16 1 33 1 20 1 8 8 1 6 32 1 30 1 53 14 430"/>
<path d="M182 101.5h323" stroke-dasharray="1 27 1 17 1 7 1 16 1 6 1 22 1 30 1 430"/>
<path d="M81 102.5h424" stroke-dasharray="14 61 1 19 1 32 1 19 1 24 1 7 2 16 2 9 1 21 1 1 1 20 1 113 2 18 2 430"/>
<path d="M157 103.5h348" stroke-dasharray="1 17 1 7 1 18 1 6 1 19 1 4 1 58 2 14 2 7 1 15 1 113 1 24 1 430"/>
<path d="M78 104.5h427" stroke-dasharray="1 18 1 69 4 15 14 10 1 17 1 25 1 192 1 26 1 430"/>
<path d="M212 105.5h293" stroke-dasharray="5 1 9 9 1 16 1 193 1 26 1 430"/>
<path d="M81 106.5h424" stroke-dasharray="14 352 1 26 1 430"/>
<path d="M447 107.5h58" stroke-dasharray="1 26 1 430"/>
<path d="M473 108.5h32" stroke-dasharray="1 430"/>
<path d="M450 109.5h55" stroke-dasharray="2 18 2 430"/>
<path d="M450 113.5h55" stroke-dasharray="3 16 3 430"/>
<path d="M417 114.5h88" stroke-dasharray="2 16 2 11 1 24 1 7 8 1 1 1 2 430"/>
<path d="M447 115.5h58" stroke-dasharray="1 26 4 430"/>
<path d="M415 116.5h90" stroke-dasharray="1 31 1 27 2 430"/>
<path d="M392 117.5h113" stroke-dasharray="1 15 1 6 1 22 1 35 3 430"/>
<path d="M321 118.5h184" stroke-dasharray="13 10 8 1 5 12 14 65 1 22 2 3 1 430"/>
<path d="M320 119.5h185" stroke-dasharray="14 83 2 16 2 44 13 430"/>
<path d="M392 120.5h113" stroke-dasharray="1 15 1 430"/>
</g>
<g stroke="#656565">
<path d="M104 93.5h401" stroke-dasharray="2 16 2 430"/>
<path d="M124 94.5h381" stroke-dasharray="1 7 7 1 8 430"/>
<path d="M103 95.5h402" stroke-dasharray="1 20 1 5 1 18 1 114 15 430"/>
<path d="M103 96.5h402" stroke-dasharray="1 20 1 136 1 20 1 12 14 430"/>
<path d="M124 97.5h381" stroke-dasharray="1 4 1 29 2 12 2 108 1 8 1 27 13 430"/>
<path d="M104 98.5h401" stroke-dasharray="2 16 2 33 1 26 1 16 1 111 1 2 1 18 1 430"/>
<path d="M130 99.5h375" stroke-dasharray="1 18 1 6 1 19 1 6 1 18 1 56 1 54 2 20 1 430"/>
<path d="M132 100.5h373" stroke-dasharray="4 8 4 8 1 19 1 106 1 31 1 430"/>
<path d="M156 101.5h349" stroke-dasharray="1 19 1 34 2 13 2 9 5 1 10 8 1 20 1 30 1 1 1 20 1 430"/>
<path d="M157 102.5h348" stroke-dasharray="1 25 1 18 1 7 1 17 1 6 2 16 1 10 16 32 1 3 1 18 1 116 18 430"/>
<path d="M79 103.5h426" stroke-dasharray="1 1 1 12 3 61 3 12 2 9 1 16 1 8 1 17 1 6 1 18 1 40 3 1 10 10 15 115 1 22 1 430"/>
<path d="M79 104.5h426" stroke-dasharray="1 16 1 114 2 13 2 7 2 16 1 194 1 24 1 430"/>
<path d="M79 105.5h426" stroke-dasharray="3 12 2 141 16 430"/>
<path d="M448 107.5h57" stroke-dasharray="1 24 1 430"/>
<path d="M449 108.5h56" stroke-dasharray="1 22 1 430"/>
<path d="M452 109.5h53" stroke-dasharray="18 430"/>
<path d="M453 113.5h52" stroke-dasharray="16 430"/>
<path d="M419 114.5h86" stroke-dasharray="16 14 2 20 2 430"/>
<path d="M416 115.5h89" stroke-dasharray="2 18 1 11 1 24 1 4 2 16 1 430"/>
<path d="M416 116.5h89" stroke-dasharray="1 20 1 10 1 25 1 2 1 19 1 430"/>
<path d="M393 117.5h112" stroke-dasharray="15 8 1 20 1 10 1 24 1 3 1 19 1 430"/>
<path d="M392 118.5h113" stroke-dasharray="1 15 1 7 2 18 2 12 2 18 2 6 2 16 1 430"/>
<path d="M392 119.5h113" stroke-dasharray="1 15 1 10 16 430"/>
<path d="M393 120.5h112" stroke-dasharray="15 430"/>
</g>
<g stroke="#595959">
<path d="M106 93.5h399" stroke-dasharray="15 430"/>
<path d="M104 94.5h401" stroke-dasharray="1 18 1 430"/>
<path d="M131 95.5h374" stroke-dasharray="1 16 1 430"/>
<path d="M130 96.5h375" stroke-dasharray="1 18 1 112 1 18 1 430"/>
<path d="M104 97.5h401" stroke-dasharray="1 18 1 6 1 18 1 11 12 87 1 32 1 16 2 430"/>
<path d="M106 98.5h399" stroke-dasharray="16 8 1 18 1 8 1 16 1 9 16 82 1 7 1 20 1 4 1 430"/>
<path d="M131 99.5h374" stroke-dasharray="1 16 1 8 1 26 1 16 1 111 1 2 1 430"/>
<path d="M136 100.5h369" stroke-dasharray="8 39 1 18 1 57 1 52 1 22 1 430"/>
<path d="M157 101.5h348" stroke-dasharray="1 25 1 18 1 10 13 36 1 18 1 9 1 20 1 3 1 430"/>
<path d="M158 102.5h347" stroke-dasharray="1 16 1 8 1 16 1 9 1 15 1 9 4 7 3 1 1 39 1 17 2 5 1 430"/>
<path d="M82 103.5h423" stroke-dasharray="12 67 12 12 16 10 1 15 1 8 2 14 2 196 3 16 3 430"/>
<path d="M80 104.5h425" stroke-dasharray="16 117 13 11 4 7 5 196 1 22 1 430"/>
<path d="M82 105.5h423" stroke-dasharray="12 354 1 24 1 430"/>
<path d="M448 106.5h57" stroke-dasharray="1 24 1 430"/>
<path d="M449 107.5h56" stroke-dasharray="1 22 1 430"/>
<path d="M450 108.5h55" stroke-dasharray="3 16 3 430"/>
<path d="M452 114.5h53" stroke-dasharray="19 430"/>
<path d="M418 115.5h87" stroke-dasharray="4 1 13 13 1 22 1 7 6 1 1 1 7 430"/>
<path d="M417 116.5h88" stroke-dasharray="1 18 1 12 1 22 2 4 1 17 1 430"/>
<path d="M417 117.5h88" stroke-dasharray="1 18 1 12 1 22 1 5 1 17 1 430"/>
<path d="M393 118.5h112" stroke-dasharray="2 11 2 10 18 16 18 10 16 430"/>
<path d="M393 119.5h112" stroke-dasharray="2 11 2 430"/>
</g>
<g stroke="#4d4d4d">
<path d="M105 94.5h400" stroke-dasharray="1 16 1 430"/>
<path d="M104 95.5h401" stroke-dasharray="1 18 1 8 1 1 14 430"/>
<path d="M104 96.5h401" stroke-dasharray="1 18 1 7 1 16 1 114 3 12 3 430"/>
<path d="M105 97.5h400" stroke-dasharray="1 16 1 138 1 20 1 11 3 10 3 430"/>
<path d="M131 98.5h374" stroke-dasharray="1 16 1 10 3 10 3 85 1 31 1 25 2 13 2 430"/>
<path d="M132 99.5h373" stroke-dasharray="2 1 13 27 1 9 1 14 1 59 1 30 1 20 1 430"/>
<path d="M157 100.5h348" stroke-dasharray="1 17 1 8 1 16 1 59 1 20 1 8 1 20 1 3 1 430"/>
<path d="M175 101.5h330" stroke-dasharray="1 8 1 16 1 61 2 13 3 11 1 42 1 430"/>
<path d="M159 102.5h346" stroke-dasharray="3 10 3 10 1 14 1 11 15 14 7 45 3 11 3 8 2 13 2 430"/>
<path d="M212 103.5h293" stroke-dasharray="15 11 8 1 5 201 16 430"/>
<path d="M241 104.5h264" stroke-dasharray="7 202 1 20 1 430"/>
<path d="M449 105.5h56" stroke-dasharray="1 22 1 430"/>
<path d="M449 106.5h56" stroke-dasharray="1 22 1 430"/>
<path d="M450 107.5h55" stroke-dasharray="1 20 1 430"/>
<path d="M453 108.5h52" stroke-dasharray="16 430"/>
<path d="M450 115.5h55" stroke-dasharray="2 18 2 430"/>
<path d="M418 116.5h87" stroke-dasharray="18 14 1 20 1 7 2 14 1 430"/>
<path d="M418 117.5h87" stroke-dasharray="7 1 10 14 3 16 3 7 2 14 1 430"/>
<path d="M395 118.5h110" stroke-dasharray="11 430"/>
<path d="M395 119.5h110" stroke-dasharray="11 430"/>
</g>
<g stroke="#414141">
<path d="M106 94.5h399" stroke-dasharray="16 430"/>
<path d="M105 95.5h400" stroke-dasharray="2 14 2 430"/>
<path d="M105 96.5h400" stroke-dasharray="2 14 2 9 3 10 3 118 12 430"/>
<path d="M106 97.5h399" stroke-dasharray="16 9 2 14 2 113 1 18 1 15 10 430"/>
<path d="M132 98.5h373" stroke-dasharray="3 11 2 14 10 89 1 20 1 28 1 8 13 430"/>
<path d="M158 99.5h347" stroke-dasharray="2 13 2 11 12 1 1 61 1 20 1 34 1 430"/>
<path d="M158 100.5h347" stroke-dasharray="1 15 1 10 1 14 1 61 1 18 1 35 1 17 1 430"/>
<path d="M158 101.5h347" stroke-dasharray="2 13 2 10 1 79 13 33 1 5 1 430"/>
<path d="M162 102.5h343" stroke-dasharray="10 14 14 96 11 13 13 430"/>
<path d="M451 104.5h54" stroke-dasharray="20 430"/>
<path d="M450 105.5h55" stroke-dasharray="2 18 2 430"/>
<path d="M450 106.5h55" stroke-dasharray="2 18 2 430"/>
<path d="M451 107.5h54" stroke-dasharray="20 430"/>
<path d="M452 115.5h53" stroke-dasharray="18 430"/>
<path d="M451 116.5h54" stroke-dasharray="20 10 14 430"/>
<path d="M453 117.5h52" stroke-dasharray="16 12 8 1 5 430"/>
</g>
<g stroke="#353535">
<path d="M108 95.5h397" stroke-dasharray="3 1 9 430"/>
<path d="M107 96.5h398" stroke-dasharray="5 1 8 14 10 430"/>
<path d="M133 97.5h372" stroke-dasharray="4 1 6 1 2 116 1 15 2 430"/>
<path d="M135 98.5h370" stroke-dasharray="11 135 1 11 2 14 2 430"/>
<path d="M160 99.5h345" stroke-dasharray="3 1 9 108 1 10 1 18 1 6 2 13 2 430"/>
<path d="M159 100.5h346" stroke-dasharray="15 12 14 63 1 15 2 11 1 18 1 6 1 15 1 430"/>
<path d="M160 101.5h345" stroke-dasharray="13 13 14 93 2 14 2 7 2 13 2 430"/>
<path d="M452 105.5h53" stroke-dasharray="15 1 2 430"/>
<path d="M452 106.5h53" stroke-dasharray="18 430"/>
</g>
<g stroke="#292929">
<path d="M264 97.5h241" stroke-dasharray="2 1 7 1 4 430"/>
<path d="M262 98.5h243" stroke-dasharray="2 16 1 14 14 430"/>
<path d="M262 99.5h243" stroke-dasharray="2 16 1 12 2 14 2 9 12 430"/>
<path d="M264 100.5h241" stroke-dasharray="15 14 2 14 2 8 1 13 1 430"/>
<path d="M295 101.5h210" stroke-dasharray="14 11 13 430"/>
</g>
<g stroke="#1d1d1d">
<path d="M264 98.5h241" stroke-dasharray="10 1 5 430"/>
<path d="M264 99.5h241" stroke-dasharray="16 15 14 430"/>
<path d="M295 100.5h210" stroke-dasharray="14 11 13 430"/>
</g>
</g>
<g fill="#000">
<rect x="72.3" y="32.7" width="3.1" height="134"/>
<rect x="72.3" y="163.8" width="430.3" height="3.1"/>
<rect x="441.3" y="33" width="3.7" height="128.9"/>
<rect x="501.4" y="33" width="3.9" height="128.7"/>
<rect x="442.3" y="161.5" width="2" height="3"/>
<rect x="66.3" y="67.5" width="7" height="3"/>
<rect x="66.3" y="87.5" width="7" height="3"/>
<rect x="66.3" y="114.1" width="7" height="3"/>
<rect x="66.3" y="128.6" width="7" height="3"/>
<rect x="66.3" y="141.2" width="7" height="3"/>
</g>
<path d="M99.2,221.5 V228 H409.5 V221" stroke="#000" stroke-width="3.2" fill="none"/>
<path d="M260.7,222 V228" stroke="#000" stroke-width="3" fill="none"/>
<g stroke="#000" fill="none">
<path d="M88.8,342 V644.5" stroke-width="2.7"/>
<path d="M84,341.6 H506" stroke-width="2.6"/>
<path d="M88.8,644.5 H506.5" stroke-width="2.8"/>
<path d="M505.2,340.5 V646" stroke-width="2.8"/>
<path d="M83.5,637.6 H88" stroke-width="2.2"/>
<path d="M500,637.6 H505" stroke-width="2"/>
<path d="M83.5,578.5 H88" stroke-width="2.2"/>
<path d="M500,578.5 H505" stroke-width="2"/>
<path d="M83.5,519.4 H88" stroke-width="2.2"/>
<path d="M500,519.4 H505" stroke-width="2"/>
<path d="M83.5,460.4 H88" stroke-width="2.2"/>
<path d="M500,460.4 H505" stroke-width="2"/>
<path d="M83.5,401.3 H88" stroke-width="2.2"/>
<path d="M500,401.3 H505" stroke-width="2"/>
<path d="M83.5,342.2 H88" stroke-width="2.2"/>
<path d="M500,342.2 H505" stroke-width="2"/>
<path d="M86,608.1 H88" stroke-width="2"/>
<path d="M501.5,608.1 H505" stroke-width="2"/>
<path d="M86,549.0 H88" stroke-width="2"/>
<path d="M501.5,549.0 H505" stroke-width="2"/>
<path d="M86,489.9 H88" stroke-width="2"/>
<path d="M501.5,489.9 H505" stroke-width="2"/>
<path d="M86,430.8 H88" stroke-width="2"/>
<path d="M501.5,430.8 H505" stroke-width="2"/>
<path d="M86,371.7 H88" stroke-width="2"/>
<path d="M501.5,371.7 H505" stroke-width="2"/>
<path d="M97.0,645 V649.5" stroke-width="2.3"/>
<path d="M97.0,341 V346.5" stroke-width="2.3"/>
<path d="M177.7,645 V649.5" stroke-width="2.3"/>
<path d="M177.7,341 V346.5" stroke-width="2.3"/>
<path d="M258.4,645 V649.5" stroke-width="2.3"/>
<path d="M258.4,341 V346.5" stroke-width="2.3"/>
<path d="M339.1,645 V649.5" stroke-width="2.3"/>
<path d="M339.1,341 V346.5" stroke-width="2.3"/>
<path d="M419.8,645 V649.5" stroke-width="2.3"/>
<path d="M419.8,341 V346.5" stroke-width="2.3"/>
<path d="M500.5,645 V649.5" stroke-width="2.3"/>
<path d="M500.5,341 V346.5" stroke-width="2.3"/>
<path d="M137.3,645 V647.5" stroke-width="2"/>
<path d="M137.3,341 V344" stroke-width="2"/>
<path d="M218.1,645 V647.5" stroke-width="2"/>
<path d="M218.1,341 V344" stroke-width="2"/>
<path d="M298.8,645 V647.5" stroke-width="2"/>
<path d="M298.8,341 V344" stroke-width="2"/>
<path d="M379.5,645 V647.5" stroke-width="2"/>
<path d="M379.5,341 V344" stroke-width="2"/>
<path d="M460.2,645 V647.5" stroke-width="2"/>
<path d="M460.2,341 V344" stroke-width="2"/>
</g>
<g stroke="#000" fill="none" stroke-width="2" stroke-dasharray="3,1.7">
<path d="M97,637.6 L183.5,359.6"/>
<path d="M97,637.6 L354.2,506.6"/>
</g>
<g stroke="#000" fill="none" stroke-width="2">
<path d="M97.3,637.6 L99.4,629.2 L101.4,621.6 L103.5,614.6 L105.6,608.3 L107.6,602.6 L109.7,597.3 L111.7,592.5 L113.8,588.0 L115.9,583.7 L117.9,579.7 L120.0,575.8 L121.5,573.0 L124.8,567.0 L128.2,561.1 L131.5,555.3 L134.8,549.6 L138.2,543.9 L141.5,538.2 L144.8,532.6 L148.1,527.1 L151.5,521.6 L154.8,516.3 L158.1,511.1 L161.5,506.0 L164.8,501.2 L168.1,496.5 L171.5,492.0 L174.8,487.7 L178.1,483.7 L181.4,479.9 L184.8,476.3 L188.1,473.0 L191.4,469.8 L194.8,466.8 L198.1,464.0 L201.4,461.3 L204.8,458.8 L208.1,456.4 L211.4,454.2 L214.7,452.1 L218.1,450.1 L221.4,448.2 L224.7,446.4 L228.1,444.7 L231.4,443.1 L234.7,441.5 L238.1,440.0 L241.4,438.5 L244.7,437.1 L248.1,435.8 L251.4,434.4 L254.7,433.1 L258.0,431.9 L261.4,430.7 L264.7,429.5 L268.0,428.3 L271.4,427.2 L274.7,426.2 L278.0,425.1 L281.4,424.1 L284.7,423.1 L288.0,422.2 L291.3,421.2 L294.7,420.3 L298.0,419.4 L301.3,418.5 L304.7,417.7 L308.0,416.8 L311.3,416.0 L314.7,415.2 L318.0,414.3 L321.3,413.5 L324.6,412.7 L328.0,412.0 L331.3,411.2 L334.6,410.4 L338.0,409.6 L341.3,408.8 L344.6,408.0 L348.0,407.2 L351.3,406.5 L354.6,405.7 L357.9,404.9 L361.3,404.1 L364.6,403.3 L367.9,402.5 L371.3,401.7 L374.6,400.9 L377.9,400.1 L381.3,399.4 L384.6,398.6 L387.9,397.8 L391.3,397.0 L394.6,396.2 L397.9,395.5 L401.2,394.7 L404.6,393.9 L407.9,393.2 L411.2,392.4 L414.6,391.7 L417.9,390.9 L421.2,390.2 L424.6,389.4 L427.9,388.7 L431.2,388.0 L434.5,387.3 L437.9,386.6 L441.2,385.8 L444.5,385.1 L447.9,384.5 L451.2,383.8 L454.5,383.1 L457.9,382.4 L461.2,381.8 L464.5,381.1 L467.8,380.5 L471.2,379.8 L474.5,379.2 L477.8,378.6 L481.2,378.0 L484.5,377.4"/>
<polyline points="97.0,637.6 113.1,634.6 145.4,612.2 193.8,589.2 290.7,551.3 484.4,478.0"/>
</g>
<g stroke="#000" stroke-width="2">
<line x1="113.1" y1="577.5" x2="113.1" y2="590.0"/><line x1="107.9" y1="577.5" x2="118.4" y2="577.5"/><line x1="107.9" y1="590.0" x2="118.4" y2="590.0"/>
<line x1="145.4" y1="513.8" x2="145.4" y2="550.8"/><line x1="140.2" y1="513.8" x2="150.7" y2="513.8"/><line x1="140.2" y1="550.8" x2="150.7" y2="550.8"/>
<line x1="193.8" y1="418.0" x2="193.8" y2="488.8"/><line x1="188.6" y1="418.0" x2="199.1" y2="418.0"/><line x1="188.6" y1="488.8" x2="199.1" y2="488.8"/>
<line x1="290.7" y1="397.8" x2="290.7" y2="439.0"/><line x1="285.4" y1="397.8" x2="295.9" y2="397.8"/><line x1="285.4" y1="439.0" x2="295.9" y2="439.0"/>
<line x1="484.4" y1="370.3" x2="484.4" y2="384.0"/><line x1="479.1" y1="370.3" x2="489.6" y2="370.3"/><line x1="479.1" y1="384.0" x2="489.6" y2="384.0"/>
<line x1="145.4" y1="605.4" x2="145.4" y2="618.8"/><line x1="140.2" y1="605.4" x2="150.7" y2="605.4"/><line x1="140.2" y1="618.8" x2="150.7" y2="618.8"/>
<line x1="484.4" y1="452.9" x2="484.4" y2="502.2"/><line x1="479.1" y1="452.9" x2="489.6" y2="452.9"/><line x1="479.1" y1="502.2" x2="489.6" y2="502.2"/>
</g>
<g fill="#000">
<polygon points="97.0,631.6 88.5,643.6 105.5,643.6"/>
<polygon points="113.1,578.0 104.6,590.0 121.6,590.0"/>
<polygon points="145.4,525.3 136.9,537.3 153.9,537.3"/>
<polygon points="193.8,445.5 185.3,457.5 202.3,457.5"/>
<polygon points="290.7,410.9 282.2,422.9 299.2,422.9"/>
<polygon points="484.4,372.8 475.9,384.8 492.9,384.8"/>
<circle cx="97.0" cy="637.6" r="7.2"/>
<circle cx="113.1" cy="634.6" r="7.2"/>
<circle cx="145.4" cy="612.2" r="7.2"/>
<circle cx="193.8" cy="589.2" r="7.2"/>
<circle cx="290.7" cy="551.3" r="7.2"/>
<circle cx="484.4" cy="478.0" r="7.2"/>
</g>
<g font-family="Liberation Sans, Arial, sans-serif" fill="#000" stroke="#000">
<text transform="translate(0.57,23.34) scale(0.9820,1)" font-size="30.83" font-weight="bold" stroke-width="0.35">A</text>
<text transform="translate(186.54,23.80) scale(1.3746,1)" font-size="14.24" font-weight="bold" stroke-width="0.35">R&#945;-&#223;TG</text>
<text transform="translate(435.52,23.98) scale(1.3746,1)" font-size="14.24" font-weight="bold" stroke-width="0.35">R&#945;-70/2</text>
<text transform="translate(25.89,71.34) scale(1.1661,1)" font-size="15.81" letter-spacing="1.00" stroke-width="0.50">21.5</text>
<text transform="translate(26.44,94.23) scale(1.1661,1)" font-size="15.81" letter-spacing="1.00" stroke-width="0.50">14.3</text>
<text transform="translate(34.33,117.36) scale(1.1661,1)" font-size="15.81" letter-spacing="1.00" stroke-width="0.50">6.5</text>
<text transform="translate(34.56,133.54) scale(1.1661,1)" font-size="15.81" letter-spacing="1.00" stroke-width="0.50">3.4</text>
<text transform="translate(34.76,149.07) scale(1.1661,1)" font-size="15.81" letter-spacing="1.00" stroke-width="0.50">2.3</text>
<text transform="translate(13.71,136.74) rotate(-90) scale(1.1958,1)" font-size="16.36" stroke-width="0.50">MW [kd]</text>
<text transform="translate(118.99,176.71) rotate(-45)" font-size="14.61" text-anchor="end" stroke-width="0.50">0</text>
<text transform="translate(145.29,176.37) rotate(-45)" font-size="14.61" text-anchor="end" stroke-width="0.50">10</text>
<text transform="translate(173.90,176.74) rotate(-45)" font-size="14.61" text-anchor="end" stroke-width="0.50">30</text>
<text transform="translate(200.11,177.62) rotate(-45)" font-size="14.61" text-anchor="end" stroke-width="0.50">60</text>
<text transform="translate(227.72,176.87) rotate(-45)" font-size="14.61" text-anchor="end" stroke-width="0.50">120</text>
<text transform="translate(256.51,177.87) rotate(-45)" font-size="14.61" text-anchor="end" stroke-width="0.50">240</text>
<text transform="translate(277.74,177.66) rotate(-45)" font-size="14.61" text-anchor="end" stroke-width="0.50">0</text>
<text transform="translate(307.79,175.26) rotate(-45)" font-size="14.61" text-anchor="end" stroke-width="0.50">10</text>
<text transform="translate(332.68,176.02) rotate(-45)" font-size="14.61" text-anchor="end" stroke-width="0.50">30</text>
<text transform="translate(356.24,175.90) rotate(-45)" font-size="14.61" text-anchor="end" stroke-width="0.50">60</text>
<text transform="translate(385.26,176.24) rotate(-45)" font-size="14.61" text-anchor="end" stroke-width="0.50">120</text>
<text transform="translate(407.64,176.39) rotate(-45)" font-size="14.61" text-anchor="end" stroke-width="0.50">240</text>
<text transform="translate(468.29,176.95) rotate(-45)" font-size="14.61" text-anchor="end" stroke-width="0.50">240</text>
<text transform="translate(494.29,176.95) rotate(-45)" font-size="14.61" text-anchor="end" stroke-width="0.50">240</text>
<text transform="translate(101.27,215.80) scale(1.0469,1)" font-size="17.20" stroke-width="0.50">concubation time with PMN [min]</text>
<text transform="translate(77.42,251.85) scale(1.1395,1)" font-size="16.80" stroke-width="0.50">N</text>
<text transform="translate(173.32,251.02) scale(1.1395,1)" font-size="16.80" stroke-width="0.50">C</text>
<text transform="translate(325.41,250.37) scale(1.1395,1)" font-size="16.80" stroke-width="0.50">P</text>
<text transform="translate(422.67,251.93) scale(1.1395,1)" font-size="16.80" stroke-width="0.50">N</text>
<text transform="translate(461.16,251.72) scale(1.1395,1)" font-size="16.80" stroke-width="0.50">C</text>
<text transform="translate(487.20,251.93) scale(1.1395,1)" font-size="16.80" stroke-width="0.50">P</text>
<text transform="translate(-0.69,334.59) scale(0.9820,1)" font-size="30.83" font-weight="bold" stroke-width="0.35">B</text>
<text transform="translate(49.70,346.74) scale(1.1139,1)" font-size="17.86" stroke-width="0.50">500</text>
<text transform="translate(50.53,405.99) scale(1.1139,1)" font-size="17.86" stroke-width="0.50">400</text>
<text transform="translate(50.24,465.70) scale(1.1139,1)" font-size="17.86" stroke-width="0.50">300</text>
<text transform="translate(50.18,524.61) scale(1.1139,1)" font-size="17.86" stroke-width="0.50">200</text>
<text transform="translate(50.73,585.19) scale(1.1139,1)" font-size="17.86" stroke-width="0.50">100</text>
<text transform="translate(70.62,643.55) scale(1.1139,1)" font-size="17.86" stroke-width="0.50">0</text>
<text transform="translate(91.73,666.75) scale(1.1139,1)" font-size="17.86" stroke-width="0.50">0</text>
<text transform="translate(167.62,666.74) scale(1.1139,1)" font-size="17.86" stroke-width="0.50">50</text>
<text transform="translate(242.89,666.66) scale(1.1139,1)" font-size="17.86" stroke-width="0.50">100</text>
<text transform="translate(324.48,666.66) scale(1.1139,1)" font-size="17.86" stroke-width="0.50">150</text>
<text transform="translate(404.83,667.16) scale(1.1139,1)" font-size="17.86" stroke-width="0.50">200</text>
<text transform="translate(485.68,667.20) scale(1.1139,1)" font-size="17.86" stroke-width="0.50">250</text>
<text transform="translate(170.77,697.13) scale(1.0406,1)" font-size="19.46" stroke-width="0.50">coincubation time with PMN [min]</text>
<text transform="translate(29.20,659.89) rotate(-90) scale(1.0822,1)" font-size="18.60" stroke-width="0.50">NAP-2 activity equivalents</text>
<text transform="translate(29.20,421.39) rotate(-90) scale(1.1386,1)" font-size="18.53" stroke-width="0.50">[nmol/L]</text>
<text transform="translate(219.14,373.12) scale(1.0895,1)" font-size="17.09" stroke-width="0.50">V</text>
<text transform="translate(228.18,376.58) scale(0.9371,1)" font-size="14.94" stroke-width="0.50">PBP</text>
<text transform="translate(258.75,373.05) scale(1.0273,1)" font-size="15.41" font-weight="bold" stroke-width="0.35">= 9.17 nmol/L/min</text>
<text transform="translate(255.08,476.39) scale(1.0895,1)" font-size="17.09" stroke-width="0.50">V</text>
<text transform="translate(264.17,481.43) scale(1.0160,1)" font-size="14.00" stroke-width="0.50">CTAP-III</text>
<text transform="translate(323.69,477.00) scale(1.0273,1)" font-size="15.41" font-weight="bold" stroke-width="0.35">= 1.40 nmol/L/min</text>
</g>
</svg>
</body></html>
